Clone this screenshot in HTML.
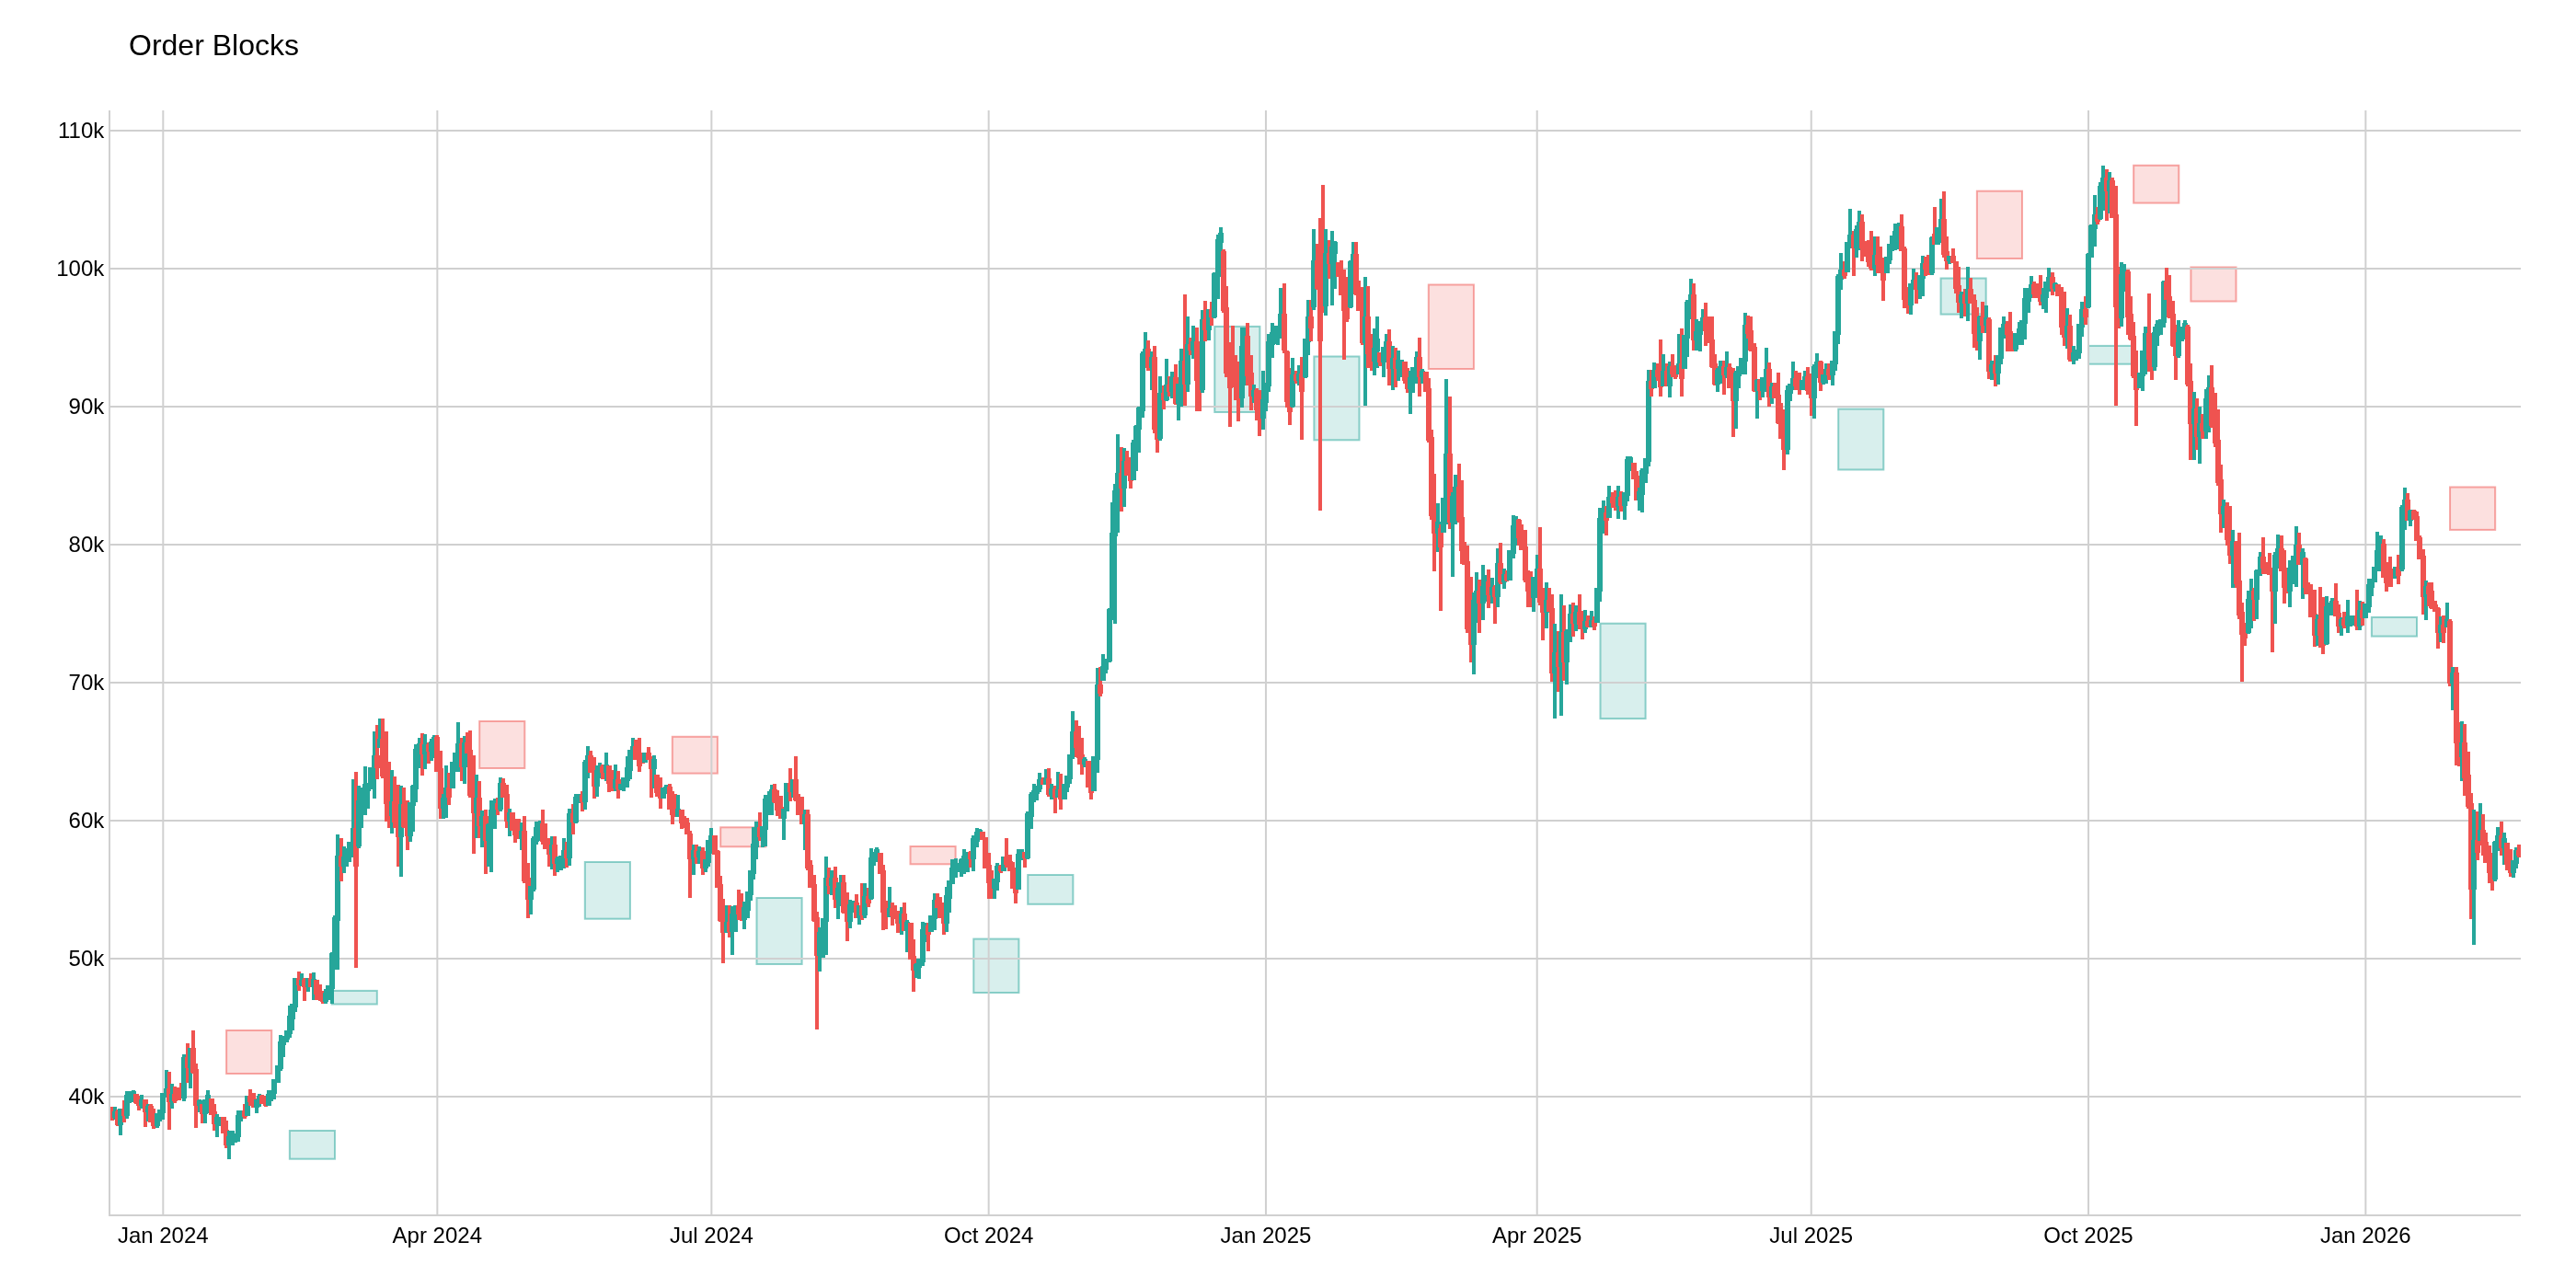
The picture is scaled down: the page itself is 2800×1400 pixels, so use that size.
<!DOCTYPE html>
<html><head><meta charset="utf-8"><title>Order Blocks</title>
<style>
html,body{margin:0;padding:0;background:#fff;}
body{position:relative;width:2800px;height:1400px;overflow:hidden;font-family:"Liberation Sans",sans-serif;}
svg{display:block;}
text{font-family:"Liberation Sans",sans-serif;font-size:24px;fill:#000;}
.title{font-size:32px;}
</style></head><body>
<svg width="2800" height="1400" viewBox="0 0 2800 1400">
<rect width="2800" height="1400" fill="#fff"/>
<g>
<rect x="246.09" y="1120.0" width="49.12" height="47.0" fill="rgba(239,83,80,0.18)" stroke="rgba(239,83,80,0.5)" stroke-width="2"/>
<rect x="314.86" y="1229.0" width="49.12" height="30.7" fill="rgba(38,166,154,0.18)" stroke="rgba(38,166,154,0.5)" stroke-width="2"/>
<rect x="360.71" y="1076.9" width="49.12" height="14.6" fill="rgba(38,166,154,0.18)" stroke="rgba(38,166,154,0.5)" stroke-width="2"/>
<rect x="521.19" y="784.0" width="49.12" height="51.0" fill="rgba(239,83,80,0.18)" stroke="rgba(239,83,80,0.5)" stroke-width="2"/>
<rect x="635.81" y="937.0" width="49.12" height="61.7" fill="rgba(38,166,154,0.18)" stroke="rgba(38,166,154,0.5)" stroke-width="2"/>
<rect x="730.79" y="800.8" width="49.12" height="39.8" fill="rgba(239,83,80,0.18)" stroke="rgba(239,83,80,0.5)" stroke-width="2"/>
<rect x="783.19" y="899.3" width="49.12" height="21.0" fill="rgba(239,83,80,0.18)" stroke="rgba(239,83,80,0.5)" stroke-width="2"/>
<rect x="822.49" y="976.0" width="49.12" height="72.0" fill="rgba(38,166,154,0.18)" stroke="rgba(38,166,154,0.5)" stroke-width="2"/>
<rect x="989.51" y="920.0" width="49.12" height="19.3" fill="rgba(239,83,80,0.18)" stroke="rgba(239,83,80,0.5)" stroke-width="2"/>
<rect x="1058.29" y="1020.6" width="49.12" height="58.4" fill="rgba(38,166,154,0.18)" stroke="rgba(38,166,154,0.5)" stroke-width="2"/>
<rect x="1117.24" y="951.0" width="49.12" height="31.8" fill="rgba(38,166,154,0.18)" stroke="rgba(38,166,154,0.5)" stroke-width="2"/>
<rect x="1320.29" y="354.9" width="49.12" height="93.1" fill="rgba(38,166,154,0.18)" stroke="rgba(38,166,154,0.5)" stroke-width="2"/>
<rect x="1428.36" y="387.5" width="49.12" height="90.8" fill="rgba(38,166,154,0.18)" stroke="rgba(38,166,154,0.5)" stroke-width="2"/>
<rect x="1552.81" y="309.5" width="49.12" height="91.5" fill="rgba(239,83,80,0.18)" stroke="rgba(239,83,80,0.5)" stroke-width="2"/>
<rect x="1739.49" y="677.7" width="49.12" height="103.4" fill="rgba(38,166,154,0.18)" stroke="rgba(38,166,154,0.5)" stroke-width="2"/>
<rect x="1998.21" y="444.6" width="49.12" height="65.9" fill="rgba(38,166,154,0.18)" stroke="rgba(38,166,154,0.5)" stroke-width="2"/>
<rect x="2109.56" y="302.5" width="49.12" height="39.1" fill="rgba(38,166,154,0.18)" stroke="rgba(38,166,154,0.5)" stroke-width="2"/>
<rect x="2148.86" y="207.7" width="49.12" height="73.3" fill="rgba(239,83,80,0.18)" stroke="rgba(239,83,80,0.5)" stroke-width="2"/>
<rect x="2270.04" y="375.9" width="49.12" height="19.8" fill="rgba(38,166,154,0.18)" stroke="rgba(38,166,154,0.5)" stroke-width="2"/>
<rect x="2319.16" y="179.8" width="49.12" height="40.8" fill="rgba(239,83,80,0.18)" stroke="rgba(239,83,80,0.5)" stroke-width="2"/>
<rect x="2381.39" y="290.5" width="49.12" height="37.0" fill="rgba(239,83,80,0.18)" stroke="rgba(239,83,80,0.5)" stroke-width="2"/>
<rect x="2577.89" y="670.9" width="49.12" height="20.7" fill="rgba(38,166,154,0.18)" stroke="rgba(38,166,154,0.5)" stroke-width="2"/>
<rect x="2663.04" y="529.5" width="49.12" height="46.4" fill="rgba(239,83,80,0.18)" stroke="rgba(239,83,80,0.5)" stroke-width="2"/>
</g>
<g>
<rect x="176.31" y="120" width="2" height="1200" fill="#d0d0d0"/>
<rect x="474.34" y="120" width="2" height="1200" fill="#d0d0d0"/>
<rect x="772.36" y="120" width="2" height="1200" fill="#d0d0d0"/>
<rect x="1073.66" y="120" width="2" height="1200" fill="#d0d0d0"/>
<rect x="1374.96" y="120" width="2" height="1200" fill="#d0d0d0"/>
<rect x="1669.71" y="120" width="2" height="1200" fill="#d0d0d0"/>
<rect x="1967.74" y="120" width="2" height="1200" fill="#d0d0d0"/>
<rect x="2269.04" y="120" width="2" height="1200" fill="#d0d0d0"/>
<rect x="2570.34" y="120" width="2" height="1200" fill="#d0d0d0"/>
</g>
<g shape-rendering="crispEdges">
<rect x="120" y="141" width="2620" height="2" fill="#d0d0d0"/>
<rect x="120" y="291" width="2620" height="2" fill="#d0d0d0"/>
<rect x="120" y="441" width="2620" height="2" fill="#d0d0d0"/>
<rect x="120" y="591" width="2620" height="2" fill="#d0d0d0"/>
<rect x="120" y="741" width="2620" height="2" fill="#d0d0d0"/>
<rect x="120" y="891" width="2620" height="2" fill="#d0d0d0"/>
<rect x="120" y="1041" width="2620" height="2" fill="#d0d0d0"/>
<rect x="120" y="1191" width="2620" height="2" fill="#d0d0d0"/>
<rect x="118" y="120" width="2" height="1202" fill="#d0d0d0"/><rect x="118" y="1320" width="2622" height="2" fill="#d0d0d0"/>
</g>
<clipPath id="cp"><rect x="120" y="120" width="2620" height="1200"/></clipPath>
<g clip-path="url(#cp)" stroke-width="4" stroke-linejoin="miter" shape-rendering="crispEdges">
<path d="M121.64,1202.6V1217.8M120.64,1210.2H122.64V1212.9H120.64Z" stroke="#ef5350" fill="#ef5350"/>
<path d="M124.91,1202.6V1216.6M123.91,1210.4H125.91V1212.9H123.91Z" stroke="#26a69a" fill="#26a69a"/>
<path d="M128.19,1206.1V1223.6M127.19,1210.4H129.19V1220.8H127.19Z" stroke="#ef5350" fill="#ef5350"/>
<path d="M131.46,1205.0V1234.1M130.46,1206.7H132.46V1220.8H130.46Z" stroke="#26a69a" fill="#26a69a"/>
<path d="M134.74,1195.7V1220.1M133.74,1206.7H135.74V1211.1H133.74Z" stroke="#ef5350" fill="#ef5350"/>
<path d="M138.01,1186.3V1215.5M137.01,1192.2H139.01V1211.1H137.01Z" stroke="#26a69a" fill="#26a69a"/>
<path d="M141.29,1186.3V1199.1M140.29,1189.9H142.29V1192.2H140.29Z" stroke="#26a69a" fill="#26a69a"/>
<path d="M144.56,1185.2V1198.0M143.56,1187.6H145.56V1189.9H143.56Z" stroke="#26a69a" fill="#26a69a"/>
<path d="M147.84,1189.8V1200.3M146.84,1190.5H148.84V1196.9H146.84Z" stroke="#ef5350" fill="#ef5350"/>
<path d="M151.11,1191.0V1207.3M150.11,1196.9H152.11V1199.8H150.11Z" stroke="#ef5350" fill="#ef5350"/>
<path d="M154.39,1189.8V1205.0M153.39,1197.1H155.39V1199.8H153.39Z" stroke="#26a69a" fill="#26a69a"/>
<path d="M157.66,1195.7V1224.8M156.66,1197.4H158.66V1207.3H156.66Z" stroke="#ef5350" fill="#ef5350"/>
<path d="M160.94,1200.3V1218.9M159.94,1204.0H161.94V1207.3H159.94Z" stroke="#26a69a" fill="#26a69a"/>
<path d="M164.21,1200.3V1218.9M163.21,1204.0H165.21V1217.8H163.21Z" stroke="#ef5350" fill="#ef5350"/>
<path d="M167.49,1205.0V1227.1M166.49,1217.8H168.49V1221.8H166.49Z" stroke="#ef5350" fill="#ef5350"/>
<path d="M170.76,1209.6V1225.9M169.76,1212.2H171.76V1221.8H169.76Z" stroke="#26a69a" fill="#26a69a"/>
<path d="M174.04,1207.3V1218.9M173.04,1208.0H175.04V1212.2H173.04Z" stroke="#26a69a" fill="#26a69a"/>
<path d="M177.31,1188.7V1216.6M176.31,1190.3H178.31V1208.0H176.31Z" stroke="#26a69a" fill="#26a69a"/>
<path d="M180.59,1163.0V1193.3M179.59,1184.9H181.59V1190.3H179.59Z" stroke="#26a69a" fill="#26a69a"/>
<path d="M183.86,1165.4V1228.3M182.86,1184.9H184.86V1196.2H182.86Z" stroke="#ef5350" fill="#ef5350"/>
<path d="M187.14,1178.2V1205.0M186.14,1191.4H188.14V1196.2H186.14Z" stroke="#26a69a" fill="#26a69a"/>
<path d="M190.41,1180.5V1199.1M189.41,1191.4H191.41V1194.7H189.41Z" stroke="#ef5350" fill="#ef5350"/>
<path d="M193.69,1181.7V1194.5M192.69,1191.4H194.69V1193.7H192.69Z" stroke="#ef5350" fill="#ef5350"/>
<path d="M196.96,1177.0V1193.3M195.96,1189.4H197.96V1192.3H195.96Z" stroke="#ef5350" fill="#ef5350"/>
<path d="M200.24,1145.6V1196.8M199.24,1150.9H201.24V1192.3H199.24Z" stroke="#26a69a" fill="#26a69a"/>
<path d="M203.51,1133.9V1177.0M202.51,1150.9H204.51V1158.6H202.51Z" stroke="#ef5350" fill="#ef5350"/>
<path d="M206.79,1138.6V1182.8M205.79,1141.2H207.79V1158.6H205.79Z" stroke="#26a69a" fill="#26a69a"/>
<path d="M210.06,1120.0V1166.5M209.06,1141.2H211.06V1163.7H209.06Z" stroke="#ef5350" fill="#ef5350"/>
<path d="M213.34,1156.1V1225.9M212.34,1163.7H214.34V1200.1H212.34Z" stroke="#ef5350" fill="#ef5350"/>
<path d="M216.61,1194.5V1208.5M215.61,1197.6H217.61V1200.1H215.61Z" stroke="#26a69a" fill="#26a69a"/>
<path d="M219.89,1200.3V1221.3M218.89,1201.6H220.89V1209.0H218.89Z" stroke="#ef5350" fill="#ef5350"/>
<path d="M223.16,1194.5V1221.3M222.16,1196.5H224.16V1209.0H222.16Z" stroke="#26a69a" fill="#26a69a"/>
<path d="M226.44,1185.2V1209.6M225.44,1192.1H227.44V1196.5H225.44Z" stroke="#26a69a" fill="#26a69a"/>
<path d="M229.71,1194.5V1210.8M228.71,1195.5H230.71V1209.8H228.71Z" stroke="#ef5350" fill="#ef5350"/>
<path d="M232.99,1200.3V1229.4M231.99,1209.8H233.99V1220.2H231.99Z" stroke="#ef5350" fill="#ef5350"/>
<path d="M236.26,1210.8V1236.4M235.26,1215.6H237.26V1220.2H235.26Z" stroke="#26a69a" fill="#26a69a"/>
<path d="M239.54,1215.5V1223.6M238.54,1215.9H240.54V1217.4H238.54Z" stroke="#26a69a" fill="#26a69a"/>
<path d="M242.81,1215.5V1230.6M241.81,1216.4H243.81V1229.7H241.81Z" stroke="#ef5350" fill="#ef5350"/>
<path d="M246.09,1217.8V1248.1M245.09,1229.7H247.09V1242.9H245.09Z" stroke="#ef5350" fill="#ef5350"/>
<path d="M249.36,1229.4V1259.7M248.36,1237.4H250.36V1242.9H248.36Z" stroke="#26a69a" fill="#26a69a"/>
<path d="M252.64,1229.4V1244.6M251.64,1234.7H253.64V1237.4H251.64Z" stroke="#26a69a" fill="#26a69a"/>
<path d="M255.91,1232.9V1242.2M254.91,1233.5H256.91V1235.2H254.91Z" stroke="#26a69a" fill="#26a69a"/>
<path d="M259.19,1206.8V1241.1M258.19,1214.0H260.19V1233.5H258.19Z" stroke="#26a69a" fill="#26a69a"/>
<path d="M262.46,1206.8V1218.9M261.46,1208.8H263.46V1214.0H261.46Z" stroke="#26a69a" fill="#26a69a"/>
<path d="M265.74,1200.3V1215.5M264.74,1208.8H266.74V1211.5H264.74Z" stroke="#ef5350" fill="#ef5350"/>
<path d="M269.01,1190.5V1212.0M268.01,1193.1H270.01V1210.7H268.01Z" stroke="#26a69a" fill="#26a69a"/>
<path d="M272.29,1184.0V1201.5M271.29,1193.1H273.29V1196.3H271.29Z" stroke="#ef5350" fill="#ef5350"/>
<path d="M275.56,1187.5V1202.6M274.56,1196.3H276.56V1201.7H274.56Z" stroke="#ef5350" fill="#ef5350"/>
<path d="M278.84,1194.5V1209.6M277.84,1196.6H279.84V1201.7H277.84Z" stroke="#26a69a" fill="#26a69a"/>
<path d="M282.11,1188.7V1202.6M281.11,1193.4H283.11V1196.6H281.11Z" stroke="#26a69a" fill="#26a69a"/>
<path d="M285.39,1189.8V1198.0M284.39,1193.4H286.39V1197.5H284.39Z" stroke="#ef5350" fill="#ef5350"/>
<path d="M288.66,1191.0V1202.6M287.66,1197.5H289.66V1199.6H287.66Z" stroke="#ef5350" fill="#ef5350"/>
<path d="M291.94,1184.7V1202.2M290.94,1191.3H292.94V1199.6H290.94Z" stroke="#26a69a" fill="#26a69a"/>
<path d="M295.21,1186.3V1196.8M294.21,1187.0H296.21V1191.3H294.21Z" stroke="#26a69a" fill="#26a69a"/>
<path d="M298.49,1173.5V1194.5M297.49,1174.8H299.49V1187.0H297.49Z" stroke="#26a69a" fill="#26a69a"/>
<path d="M301.76,1158.4V1177.0M300.76,1159.5H302.76V1174.8H300.76Z" stroke="#26a69a" fill="#26a69a"/>
<path d="M305.04,1124.6V1164.2M304.04,1134.2H306.04V1159.5H304.04Z" stroke="#26a69a" fill="#26a69a"/>
<path d="M308.31,1125.8V1149.1M307.31,1127.5H309.31V1134.2H307.31Z" stroke="#26a69a" fill="#26a69a"/>
<path d="M311.59,1121.1V1132.8M310.59,1121.8H312.59V1127.5H310.59Z" stroke="#26a69a" fill="#26a69a"/>
<path d="M314.86,1093.2V1128.1M313.86,1106.0H315.86V1121.8H313.86Z" stroke="#26a69a" fill="#26a69a"/>
<path d="M318.14,1090.8V1120.0M317.14,1092.6H319.14V1106.0H317.14Z" stroke="#26a69a" fill="#26a69a"/>
<path d="M321.41,1062.9V1100.2M320.41,1065.2H322.41V1092.6H320.41Z" stroke="#26a69a" fill="#26a69a"/>
<path d="M324.69,1055.9V1076.9M323.69,1065.2H325.69V1069.0H323.69Z" stroke="#ef5350" fill="#ef5350"/>
<path d="M327.96,1058.2V1072.2M326.96,1066.5H328.96V1069.0H326.96Z" stroke="#26a69a" fill="#26a69a"/>
<path d="M331.24,1062.9V1088.0M330.24,1066.5H332.24V1071.0H330.24Z" stroke="#ef5350" fill="#ef5350"/>
<path d="M334.51,1062.9V1078.0M333.51,1065.0H335.51V1071.0H333.51Z" stroke="#26a69a" fill="#26a69a"/>
<path d="M337.79,1058.2V1072.2M336.79,1065.0H338.79V1071.4H336.79Z" stroke="#ef5350" fill="#ef5350"/>
<path d="M341.06,1057.1V1086.6M340.06,1066.0H342.06V1071.4H340.06Z" stroke="#26a69a" fill="#26a69a"/>
<path d="M344.34,1065.2V1087.3M343.34,1066.5H345.34V1078.8H343.34Z" stroke="#ef5350" fill="#ef5350"/>
<path d="M347.61,1069.9V1088.0M346.61,1078.8H348.61V1084.8H346.61Z" stroke="#ef5350" fill="#ef5350"/>
<path d="M350.89,1076.9V1091.3M349.89,1084.8H351.89V1087.4H349.89Z" stroke="#ef5350" fill="#ef5350"/>
<path d="M354.16,1074.5V1090.8M353.16,1080.7H355.16V1087.4H353.16Z" stroke="#26a69a" fill="#26a69a"/>
<path d="M357.44,1072.2V1087.3M356.44,1073.1H358.44V1080.7H356.44Z" stroke="#26a69a" fill="#26a69a"/>
<path d="M360.71,1034.9V1090.8M359.71,1038.3H361.71V1073.1H359.71Z" stroke="#26a69a" fill="#26a69a"/>
<path d="M363.99,995.3V1053.5M362.99,998.7H364.99V1038.3H362.99Z" stroke="#26a69a" fill="#26a69a"/>
<path d="M367.26,906.7V1053.5M366.26,931.7H368.26V998.7H366.26Z" stroke="#26a69a" fill="#26a69a"/>
<path d="M370.54,911.4V958.0M369.54,931.7H371.54V940.1H369.54Z" stroke="#ef5350" fill="#ef5350"/>
<path d="M373.81,919.6V948.7M372.81,933.3H374.81V940.1H372.81Z" stroke="#26a69a" fill="#26a69a"/>
<path d="M377.09,923.0V941.7M376.09,924.2H378.09V933.3H376.09Z" stroke="#26a69a" fill="#26a69a"/>
<path d="M380.36,916.1V937.0M379.36,917.3H381.36V924.2H379.36Z" stroke="#26a69a" fill="#26a69a"/>
<path d="M383.64,847.3V932.4M382.64,902.0H384.64V917.3H382.64Z" stroke="#26a69a" fill="#26a69a"/>
<path d="M386.91,839.2V1052.3M385.91,902.0H387.91V940.4H385.91Z" stroke="#ef5350" fill="#ef5350"/>
<path d="M390.19,854.3V921.9M389.19,871.8H391.19V917.8H389.19Z" stroke="#26a69a" fill="#26a69a"/>
<path d="M393.46,855.5V899.8M392.46,863.8H394.46V871.8H392.46Z" stroke="#26a69a" fill="#26a69a"/>
<path d="M396.74,833.4V885.8M395.74,854.4H397.74V863.8H395.74Z" stroke="#26a69a" fill="#26a69a"/>
<path d="M400.01,850.8V878.8M399.01,852.5H401.01V857.5H399.01Z" stroke="#26a69a" fill="#26a69a"/>
<path d="M403.29,834.5V857.8M402.29,835.9H404.29V852.5H402.29Z" stroke="#26a69a" fill="#26a69a"/>
<path d="M406.56,794.9V868.3M405.56,822.7H407.56V835.9H405.56Z" stroke="#26a69a" fill="#26a69a"/>
<path d="M409.84,788.0V847.3M408.84,822.7H410.84V833.4H408.84Z" stroke="#ef5350" fill="#ef5350"/>
<path d="M413.11,780.5V812.4M412.11,804.7H414.11V810.5H412.11Z" stroke="#26a69a" fill="#26a69a"/>
<path d="M416.39,780.5V846.2M415.39,804.7H417.39V842.2H415.39Z" stroke="#ef5350" fill="#ef5350"/>
<path d="M419.66,794.9V892.8M418.66,842.2H420.66V872.0H418.66Z" stroke="#ef5350" fill="#ef5350"/>
<path d="M422.94,827.5V899.8M421.94,872.0H423.94V885.0H421.94Z" stroke="#ef5350" fill="#ef5350"/>
<path d="M426.21,836.9V905.6M425.21,872.6H427.21V885.0H425.21Z" stroke="#26a69a" fill="#26a69a"/>
<path d="M429.49,843.9V899.8M428.49,872.6H430.49V891.5H428.49Z" stroke="#ef5350" fill="#ef5350"/>
<path d="M432.76,853.2V941.7M431.76,891.5H433.76V907.5H431.76Z" stroke="#ef5350" fill="#ef5350"/>
<path d="M436.04,854.3V953.3M435.04,875.8H437.04V907.5H435.04Z" stroke="#26a69a" fill="#26a69a"/>
<path d="M439.31,855.5V899.8M438.31,875.8H440.31V897.1H438.31Z" stroke="#ef5350" fill="#ef5350"/>
<path d="M442.59,869.5V924.2M441.59,897.1H443.59V906.9H441.59Z" stroke="#ef5350" fill="#ef5350"/>
<path d="M445.86,871.8V914.9M444.86,874.4H446.86V906.9H444.86Z" stroke="#26a69a" fill="#26a69a"/>
<path d="M449.14,853.2V904.4M448.14,856.2H450.14V874.4H448.14Z" stroke="#26a69a" fill="#26a69a"/>
<path d="M452.41,808.9V871.8M451.41,815.6H453.41V856.2H451.41Z" stroke="#26a69a" fill="#26a69a"/>
<path d="M455.69,801.9V834.5M454.69,809.7H456.69V815.6H454.69Z" stroke="#26a69a" fill="#26a69a"/>
<path d="M458.96,797.3V842.7M457.96,809.7H459.96V817.9H457.96Z" stroke="#ef5350" fill="#ef5350"/>
<path d="M462.24,798.4V835.7M461.24,811.2H463.24V817.9H461.24Z" stroke="#26a69a" fill="#26a69a"/>
<path d="M465.51,806.6V829.9M464.51,811.2H466.51V815.4H464.51Z" stroke="#ef5350" fill="#ef5350"/>
<path d="M468.79,802.9V827.0M467.79,807.9H469.79V815.4H467.79Z" stroke="#26a69a" fill="#26a69a"/>
<path d="M472.06,799.1V824.1M471.06,803.4H473.06V807.9H471.06Z" stroke="#26a69a" fill="#26a69a"/>
<path d="M475.34,799.1V839.2M474.34,803.4H476.34V836.8H474.34Z" stroke="#ef5350" fill="#ef5350"/>
<path d="M478.61,815.9V890.4M477.61,836.8H479.61V877.0H477.61Z" stroke="#ef5350" fill="#ef5350"/>
<path d="M481.89,862.5V890.4M480.89,868.5H482.89V877.0H480.89Z" stroke="#26a69a" fill="#26a69a"/>
<path d="M485.16,832.2V889.3M484.16,858.2H486.16V868.5H484.16Z" stroke="#26a69a" fill="#26a69a"/>
<path d="M488.44,840.4V875.3M487.44,858.2H489.44V864.5H487.44Z" stroke="#ef5350" fill="#ef5350"/>
<path d="M491.71,827.5V856.7M490.71,829.5H492.71V854.9H490.71Z" stroke="#26a69a" fill="#26a69a"/>
<path d="M494.99,818.2V839.2M493.99,819.5H495.99V829.5H493.99Z" stroke="#26a69a" fill="#26a69a"/>
<path d="M498.26,784.5V839.2M497.26,809.6H499.26V819.5H497.26Z" stroke="#26a69a" fill="#26a69a"/>
<path d="M501.54,801.9V848.5M500.54,809.6H502.54V832.1H500.54Z" stroke="#ef5350" fill="#ef5350"/>
<path d="M504.81,799.6V852.0M503.81,809.0H505.81V832.1H503.81Z" stroke="#26a69a" fill="#26a69a"/>
<path d="M508.09,796.1V818.2M507.09,809.0H509.09V816.9H507.09Z" stroke="#ef5350" fill="#ef5350"/>
<path d="M511.36,793.8V867.1M510.36,816.9H512.36V862.7H510.36Z" stroke="#ef5350" fill="#ef5350"/>
<path d="M514.64,820.6V927.7M513.64,862.7H515.64V882.0H513.64Z" stroke="#ef5350" fill="#ef5350"/>
<path d="M517.91,841.5V911.4M516.91,869.4H518.91V882.0H516.91Z" stroke="#26a69a" fill="#26a69a"/>
<path d="M521.19,848.5V911.4M520.19,869.4H522.19V896.2H520.19Z" stroke="#ef5350" fill="#ef5350"/>
<path d="M524.46,881.1V920.7M523.46,889.1H525.46V896.2H523.46Z" stroke="#26a69a" fill="#26a69a"/>
<path d="M527.74,880.0V949.8M526.74,889.1H528.74V912.3H526.74Z" stroke="#ef5350" fill="#ef5350"/>
<path d="M531.01,895.1V941.7M530.01,898.4H532.01V912.3H530.01Z" stroke="#26a69a" fill="#26a69a"/>
<path d="M534.29,869.5V947.5M533.29,881.8H535.29V898.4H533.29Z" stroke="#26a69a" fill="#26a69a"/>
<path d="M537.56,868.3V900.9M536.56,874.6H538.56V881.8H536.56Z" stroke="#26a69a" fill="#26a69a"/>
<path d="M540.84,867.1V885.8M539.84,874.6H541.84V877.9H539.84Z" stroke="#ef5350" fill="#ef5350"/>
<path d="M544.11,845.0V882.3M543.11,853.4H545.11V877.9H543.11Z" stroke="#26a69a" fill="#26a69a"/>
<path d="M547.39,846.2V866.0M546.39,853.4H548.39V864.8H546.39Z" stroke="#ef5350" fill="#ef5350"/>
<path d="M550.66,853.2V899.8M549.66,864.8H551.66V890.8H549.66Z" stroke="#ef5350" fill="#ef5350"/>
<path d="M553.94,878.8V909.1M552.94,885.3H554.94V890.8H552.94Z" stroke="#26a69a" fill="#26a69a"/>
<path d="M557.21,883.4V902.1M556.21,885.3H558.21V901.0H556.21Z" stroke="#ef5350" fill="#ef5350"/>
<path d="M560.49,890.4V916.1M559.49,901.0H561.49V905.6H559.49Z" stroke="#ef5350" fill="#ef5350"/>
<path d="M563.76,890.4V911.4M562.76,905.6H564.76V910.1H562.76Z" stroke="#ef5350" fill="#ef5350"/>
<path d="M567.04,893.9V924.2M566.04,904.7H568.04V910.1H566.04Z" stroke="#26a69a" fill="#26a69a"/>
<path d="M570.31,886.9V960.3M569.31,904.7H571.31V955.9H569.31Z" stroke="#ef5350" fill="#ef5350"/>
<path d="M573.59,938.2V997.6M572.59,955.9H574.59V976.0H572.59Z" stroke="#ef5350" fill="#ef5350"/>
<path d="M576.86,962.6V994.1M575.86,964.5H577.86V976.0H575.86Z" stroke="#26a69a" fill="#26a69a"/>
<path d="M580.14,909.1V968.5M579.14,912.6H581.14V964.5H579.14Z" stroke="#26a69a" fill="#26a69a"/>
<path d="M583.41,892.8V918.4M582.41,900.6H584.41V912.6H582.41Z" stroke="#26a69a" fill="#26a69a"/>
<path d="M586.69,892.3V913.7M585.69,896.7H587.69V900.6H585.69Z" stroke="#26a69a" fill="#26a69a"/>
<path d="M589.96,880.0V918.4M588.96,896.7H590.96V913.2H588.96Z" stroke="#ef5350" fill="#ef5350"/>
<path d="M593.24,895.1V923.0M592.24,913.2H594.24V921.4H592.24Z" stroke="#ef5350" fill="#ef5350"/>
<path d="M596.51,911.4V941.7M595.51,921.4H597.51V926.9H595.51Z" stroke="#ef5350" fill="#ef5350"/>
<path d="M599.79,909.1V945.2M598.79,920.4H600.79V926.9H598.79Z" stroke="#26a69a" fill="#26a69a"/>
<path d="M603.06,909.1V952.2M602.06,920.4H604.06V937.4H602.06Z" stroke="#ef5350" fill="#ef5350"/>
<path d="M606.34,931.2V947.5M605.34,934.5H607.34V937.4H605.34Z" stroke="#26a69a" fill="#26a69a"/>
<path d="M609.61,931.2V946.3M608.61,932.1H610.61V934.8H608.61Z" stroke="#26a69a" fill="#26a69a"/>
<path d="M612.89,911.4V944.0M611.89,926.2H613.89V932.1H611.89Z" stroke="#26a69a" fill="#26a69a"/>
<path d="M616.16,914.9V942.8M615.16,926.2H617.16V931.3H615.16Z" stroke="#ef5350" fill="#ef5350"/>
<path d="M619.44,878.8V940.5M618.44,885.8H620.44V931.3H618.44Z" stroke="#26a69a" fill="#26a69a"/>
<path d="M622.71,874.1V906.7M621.71,885.8H623.71V891.6H621.71Z" stroke="#ef5350" fill="#ef5350"/>
<path d="M625.99,862.5V895.1M624.99,867.8H626.99V891.6H624.99Z" stroke="#26a69a" fill="#26a69a"/>
<path d="M629.26,862.5V873.0M628.26,865.9H630.26V867.8H628.26Z" stroke="#26a69a" fill="#26a69a"/>
<path d="M632.54,860.2V882.3M631.54,865.9H633.54V869.9H631.54Z" stroke="#ef5350" fill="#ef5350"/>
<path d="M635.81,826.4V880.0M634.81,829.6H636.81V869.9H634.81Z" stroke="#26a69a" fill="#26a69a"/>
<path d="M639.09,810.8V846.2M638.09,823.2H640.09V829.6H638.09Z" stroke="#26a69a" fill="#26a69a"/>
<path d="M642.36,815.9V839.2M641.36,823.2H643.36V837.8H641.36Z" stroke="#ef5350" fill="#ef5350"/>
<path d="M645.64,822.9V868.3M644.64,837.8H646.64V852.8H644.64Z" stroke="#ef5350" fill="#ef5350"/>
<path d="M648.91,832.2V866.0M647.91,838.5H649.91V852.8H647.91Z" stroke="#26a69a" fill="#26a69a"/>
<path d="M652.19,828.7V846.2M651.19,835.3H653.19V838.5H651.19Z" stroke="#26a69a" fill="#26a69a"/>
<path d="M655.46,831.0V847.3M654.46,835.3H656.46V838.3H654.46Z" stroke="#ef5350" fill="#ef5350"/>
<path d="M658.74,817.8V848.5M657.74,832.7H659.74V838.3H657.74Z" stroke="#26a69a" fill="#26a69a"/>
<path d="M662.01,832.2V861.3M661.01,834.0H663.01V850.4H661.01Z" stroke="#ef5350" fill="#ef5350"/>
<path d="M665.29,836.9V860.2M664.29,850.4H666.29V854.6H664.29Z" stroke="#ef5350" fill="#ef5350"/>
<path d="M668.56,831.0V860.2M667.56,849.4H669.56V854.6H667.56Z" stroke="#26a69a" fill="#26a69a"/>
<path d="M671.84,838.0V868.3M670.84,849.4H672.84V855.8H670.84Z" stroke="#ef5350" fill="#ef5350"/>
<path d="M675.11,853.2V859.0M674.11,853.5H676.11V855.8H674.11Z" stroke="#26a69a" fill="#26a69a"/>
<path d="M678.39,846.2V860.2M677.39,847.0H679.39V853.5H677.39Z" stroke="#26a69a" fill="#26a69a"/>
<path d="M681.66,821.7V855.5M680.66,835.8H682.66V847.0H680.66Z" stroke="#26a69a" fill="#26a69a"/>
<path d="M684.94,814.7V847.3M683.94,816.7H685.94V835.8H683.94Z" stroke="#26a69a" fill="#26a69a"/>
<path d="M688.21,801.9V822.9M687.21,812.9H689.21V816.7H687.21Z" stroke="#26a69a" fill="#26a69a"/>
<path d="M691.49,804.3V825.2M690.49,812.9H692.49V823.9H690.49Z" stroke="#ef5350" fill="#ef5350"/>
<path d="M694.76,801.5V839.2M693.76,823.9H695.76V830.7H693.76Z" stroke="#ef5350" fill="#ef5350"/>
<path d="M698.04,818.2V828.7M697.04,826.2H699.04V828.1H697.04Z" stroke="#ef5350" fill="#ef5350"/>
<path d="M701.31,819.4V827.5M700.31,819.9H702.31V827.1H700.31Z" stroke="#26a69a" fill="#26a69a"/>
<path d="M704.59,812.4V825.2M703.59,819.9H705.59V824.4H703.59Z" stroke="#ef5350" fill="#ef5350"/>
<path d="M707.86,821.7V866.7M706.86,824.4H708.86V833.5H706.86Z" stroke="#ef5350" fill="#ef5350"/>
<path d="M711.14,820.6V856.7M710.14,827.0H712.14V833.5H710.14Z" stroke="#26a69a" fill="#26a69a"/>
<path d="M714.41,842.7V866.0M713.41,844.1H715.41V859.7H713.41Z" stroke="#ef5350" fill="#ef5350"/>
<path d="M717.69,845.0V878.8M716.69,859.7H718.69V865.7H716.69Z" stroke="#ef5350" fill="#ef5350"/>
<path d="M720.96,855.5V868.3M719.96,858.4H721.96V865.7H719.96Z" stroke="#26a69a" fill="#26a69a"/>
<path d="M724.24,853.2V862.5M723.24,856.7H725.24V858.4H723.24Z" stroke="#26a69a" fill="#26a69a"/>
<path d="M727.51,852.0V880.0M726.51,856.7H728.51V877.6H726.51Z" stroke="#ef5350" fill="#ef5350"/>
<path d="M730.79,860.2V896.3M729.79,877.6H731.79V884.1H729.79Z" stroke="#ef5350" fill="#ef5350"/>
<path d="M734.06,862.5V886.9M733.06,881.1H735.06V885.5H733.06Z" stroke="#ef5350" fill="#ef5350"/>
<path d="M737.34,863.6V886.9M736.34,881.3H738.34V885.5H736.34Z" stroke="#26a69a" fill="#26a69a"/>
<path d="M740.61,881.1V900.9M739.61,882.3H741.61V892.8H739.61Z" stroke="#ef5350" fill="#ef5350"/>
<path d="M743.89,886.9V899.8M742.89,892.8H744.89V896.1H742.89Z" stroke="#ef5350" fill="#ef5350"/>
<path d="M747.16,889.3V905.6M746.16,896.1H748.16V904.6H746.16Z" stroke="#ef5350" fill="#ef5350"/>
<path d="M750.44,903.2V975.5M749.44,907.6H751.44V931.7H749.44Z" stroke="#ef5350" fill="#ef5350"/>
<path d="M753.71,918.4V951.0M752.71,925.9H754.71V931.7H752.71Z" stroke="#26a69a" fill="#26a69a"/>
<path d="M756.99,918.4V939.3M755.99,925.9H757.99V930.2H755.99Z" stroke="#ef5350" fill="#ef5350"/>
<path d="M760.26,919.6V939.3M759.26,926.6H761.26V930.2H759.26Z" stroke="#26a69a" fill="#26a69a"/>
<path d="M763.54,920.7V951.0M762.54,926.6H764.54V942.4H762.54Z" stroke="#ef5350" fill="#ef5350"/>
<path d="M766.81,934.7V947.5M765.81,935.5H767.81V942.4H765.81Z" stroke="#26a69a" fill="#26a69a"/>
<path d="M770.09,912.6V941.7M769.09,915.0H771.09V935.5H769.09Z" stroke="#26a69a" fill="#26a69a"/>
<path d="M773.36,899.8V927.7M772.36,910.0H774.36V915.0H772.36Z" stroke="#26a69a" fill="#26a69a"/>
<path d="M776.64,908.6V927.7M775.64,910.0H777.64V926.6H775.64Z" stroke="#ef5350" fill="#ef5350"/>
<path d="M779.91,924.2V965.0M778.91,926.7H780.91V962.5H778.91Z" stroke="#ef5350" fill="#ef5350"/>
<path d="M783.19,952.2V1002.2M782.19,962.5H784.19V999.2H782.19Z" stroke="#ef5350" fill="#ef5350"/>
<path d="M786.46,976.6V1046.5M785.46,999.2H787.46V1011.8H785.46Z" stroke="#ef5350" fill="#ef5350"/>
<path d="M789.74,983.6V1013.9M788.74,1003.7H790.74V1011.8H788.74Z" stroke="#26a69a" fill="#26a69a"/>
<path d="M793.01,983.6V1018.5M792.01,1003.7H794.01V1011.2H792.01Z" stroke="#ef5350" fill="#ef5350"/>
<path d="M796.29,984.8V1038.3M795.29,995.4H797.29V1011.2H795.29Z" stroke="#26a69a" fill="#26a69a"/>
<path d="M799.56,983.6V1012.7M798.56,986.4H800.56V995.4H798.56Z" stroke="#26a69a" fill="#26a69a"/>
<path d="M802.84,967.3V999.9M801.84,986.4H803.84V992.3H801.84Z" stroke="#ef5350" fill="#ef5350"/>
<path d="M806.11,970.8V1001.1M805.11,992.3H807.11V998.0H805.11Z" stroke="#ef5350" fill="#ef5350"/>
<path d="M809.39,980.1V1010.4M808.39,987.6H810.39V998.0H808.39Z" stroke="#26a69a" fill="#26a69a"/>
<path d="M812.66,969.6V997.6M811.66,971.3H813.66V987.6H811.66Z" stroke="#26a69a" fill="#26a69a"/>
<path d="M815.94,946.3V978.9M814.94,948.3H816.94V971.3H814.94Z" stroke="#26a69a" fill="#26a69a"/>
<path d="M819.21,898.6V955.7M818.21,918.6H820.21V948.3H818.21Z" stroke="#26a69a" fill="#26a69a"/>
<path d="M822.49,892.8V933.5M821.49,900.6H823.49V918.6H821.49Z" stroke="#26a69a" fill="#26a69a"/>
<path d="M825.76,883.4V913.7M824.76,900.6H826.76V907.5H824.76Z" stroke="#ef5350" fill="#ef5350"/>
<path d="M829.04,898.6V920.7M828.04,899.9H830.04V907.5H828.04Z" stroke="#26a69a" fill="#26a69a"/>
<path d="M832.31,863.6V919.6M831.31,870.3H833.31V899.9H831.31Z" stroke="#26a69a" fill="#26a69a"/>
<path d="M835.59,860.2V885.8M834.59,865.7H836.59V870.3H834.59Z" stroke="#26a69a" fill="#26a69a"/>
<path d="M838.86,853.2V885.8M837.86,859.8H839.86V865.7H837.86Z" stroke="#26a69a" fill="#26a69a"/>
<path d="M842.14,852.0V873.0M841.14,859.8H843.14V870.0H841.14Z" stroke="#ef5350" fill="#ef5350"/>
<path d="M845.41,859.0V886.9M844.41,870.0H846.41V879.4H844.41Z" stroke="#ef5350" fill="#ef5350"/>
<path d="M848.69,864.8V889.3M847.69,879.4H849.69V887.8H847.69Z" stroke="#ef5350" fill="#ef5350"/>
<path d="M851.96,878.8V912.6M850.96,880.8H852.96V887.8H850.96Z" stroke="#26a69a" fill="#26a69a"/>
<path d="M855.24,850.8V882.3M854.24,852.7H856.24V880.4H854.24Z" stroke="#26a69a" fill="#26a69a"/>
<path d="M858.51,834.5V870.6M857.51,852.7H859.51V859.2H857.51Z" stroke="#ef5350" fill="#ef5350"/>
<path d="M861.79,847.3V867.1M860.79,848.5H862.79V859.2H860.79Z" stroke="#26a69a" fill="#26a69a"/>
<path d="M865.06,822.4V870.6M864.06,848.5H866.06V867.7H864.06Z" stroke="#ef5350" fill="#ef5350"/>
<path d="M868.34,862.5V885.8M867.34,867.7H869.34V884.4H867.34Z" stroke="#ef5350" fill="#ef5350"/>
<path d="M871.61,866.0V896.3M870.61,884.4H872.61V894.4H870.61Z" stroke="#ef5350" fill="#ef5350"/>
<path d="M874.89,880.0V924.2M873.89,886.5H875.89V894.4H873.89Z" stroke="#26a69a" fill="#26a69a"/>
<path d="M878.16,880.0V946.3M877.16,886.5H879.16V942.4H877.16Z" stroke="#ef5350" fill="#ef5350"/>
<path d="M881.44,934.7V965.0M880.44,942.4H882.44V963.2H880.44Z" stroke="#ef5350" fill="#ef5350"/>
<path d="M884.71,951.0V1002.2M883.71,963.2H885.71V999.2H883.71Z" stroke="#ef5350" fill="#ef5350"/>
<path d="M887.99,990.6V1118.9M886.99,999.2H888.99V1036.6H886.99Z" stroke="#ef5350" fill="#ef5350"/>
<path d="M891.26,1008.1V1055.8M890.26,1015.4H892.26V1036.6H890.26Z" stroke="#26a69a" fill="#26a69a"/>
<path d="M894.54,997.6V1040.7M893.54,1000.2H895.54V1015.4H893.54Z" stroke="#26a69a" fill="#26a69a"/>
<path d="M897.81,931.2V1038.3M896.81,955.6H898.81V1000.2H896.81Z" stroke="#26a69a" fill="#26a69a"/>
<path d="M901.09,942.8V972.0M900.09,955.6H902.09V960.8H900.09Z" stroke="#ef5350" fill="#ef5350"/>
<path d="M904.36,946.3V973.1M903.36,956.0H905.36V960.8H903.36Z" stroke="#26a69a" fill="#26a69a"/>
<path d="M907.64,941.7V987.1M906.64,956.0H908.64V976.1H906.64Z" stroke="#ef5350" fill="#ef5350"/>
<path d="M910.91,959.1V998.7M909.91,967.1H911.91V976.1H909.91Z" stroke="#26a69a" fill="#26a69a"/>
<path d="M914.19,951.0V984.8M913.19,961.0H915.19V967.1H913.19Z" stroke="#26a69a" fill="#26a69a"/>
<path d="M917.46,951.0V992.9M916.46,961.0H918.46V990.4H916.46Z" stroke="#ef5350" fill="#ef5350"/>
<path d="M920.74,969.6V1023.2M919.74,990.4H921.74V1000.0H919.74Z" stroke="#ef5350" fill="#ef5350"/>
<path d="M924.01,977.8V1009.2M923.01,985.2H925.01V1000.0H923.01Z" stroke="#26a69a" fill="#26a69a"/>
<path d="M927.29,978.9V991.8M926.29,982.9H928.29V985.2H926.29Z" stroke="#26a69a" fill="#26a69a"/>
<path d="M930.56,972.0V998.0M929.56,982.9H931.56V996.4H929.56Z" stroke="#ef5350" fill="#ef5350"/>
<path d="M933.84,984.8V1005.0M932.84,986.0H934.84V996.4H932.84Z" stroke="#26a69a" fill="#26a69a"/>
<path d="M937.11,960.3V1000.3M936.11,986.0H938.11V993.2H936.11Z" stroke="#ef5350" fill="#ef5350"/>
<path d="M940.39,960.3V998.0M939.39,975.7H941.39V993.2H939.39Z" stroke="#26a69a" fill="#26a69a"/>
<path d="M943.66,965.0V986.3M942.66,975.7H944.66V979.5H942.66Z" stroke="#ef5350" fill="#ef5350"/>
<path d="M946.94,922.3V978.2M945.94,934.0H947.94V974.8H945.94Z" stroke="#26a69a" fill="#26a69a"/>
<path d="M950.21,926.9V940.9M949.21,927.8H951.21V934.0H949.21Z" stroke="#26a69a" fill="#26a69a"/>
<path d="M953.49,920.7V937.4M952.49,924.8H954.49V927.8H952.49Z" stroke="#26a69a" fill="#26a69a"/>
<path d="M956.76,928.1V949.1M955.76,929.4H957.76V947.8H955.76Z" stroke="#ef5350" fill="#ef5350"/>
<path d="M960.04,939.8V1010.8M959.04,947.8H961.04V990.0H959.04Z" stroke="#ef5350" fill="#ef5350"/>
<path d="M963.31,979.3V1009.6M962.31,990.0H964.31V995.4H962.31Z" stroke="#ef5350" fill="#ef5350"/>
<path d="M966.59,964.2V996.8M965.59,989.0H967.59V994.9H965.59Z" stroke="#26a69a" fill="#26a69a"/>
<path d="M969.86,980.5V1006.1M968.86,989.0H970.86V993.6H968.86Z" stroke="#ef5350" fill="#ef5350"/>
<path d="M973.14,984.0V998.0M972.14,993.6H974.14V997.1H972.14Z" stroke="#ef5350" fill="#ef5350"/>
<path d="M976.41,989.8V1014.3M975.41,997.1H977.41V1001.5H975.41Z" stroke="#ef5350" fill="#ef5350"/>
<path d="M979.69,986.3V1015.5M978.69,995.0H980.69V1001.5H978.69Z" stroke="#26a69a" fill="#26a69a"/>
<path d="M982.96,981.2V1012.0M981.96,995.0H983.96V1010.1H981.96Z" stroke="#ef5350" fill="#ef5350"/>
<path d="M986.24,1000.3V1035.3M985.24,1003.8H987.24V1010.1H985.24Z" stroke="#26a69a" fill="#26a69a"/>
<path d="M989.51,1002.6V1043.4M988.51,1005.1H990.51V1041.0H988.51Z" stroke="#ef5350" fill="#ef5350"/>
<path d="M992.79,1021.3V1078.3M991.79,1041.0H993.79V1053.1H991.79Z" stroke="#ef5350" fill="#ef5350"/>
<path d="M996.06,1046.9V1063.2M995.06,1050.2H997.06V1053.1H995.06Z" stroke="#26a69a" fill="#26a69a"/>
<path d="M999.34,1042.2V1064.4M998.34,1043.6H1000.34V1050.2H998.34Z" stroke="#26a69a" fill="#26a69a"/>
<path d="M1002.61,1001.5V1050.4M1001.61,1011.7H1003.61V1043.6H1001.61Z" stroke="#26a69a" fill="#26a69a"/>
<path d="M1005.89,1002.6V1023.6M1004.89,1007.9H1006.89V1011.7H1004.89Z" stroke="#26a69a" fill="#26a69a"/>
<path d="M1009.16,1002.6V1033.6M1008.16,1007.9H1010.16V1013.5H1008.16Z" stroke="#ef5350" fill="#ef5350"/>
<path d="M1012.44,995.7V1012.0M1011.44,996.6H1013.44V1011.0H1011.44Z" stroke="#26a69a" fill="#26a69a"/>
<path d="M1015.71,970.5V1010.8M1014.71,979.7H1016.71V996.6H1014.71Z" stroke="#26a69a" fill="#26a69a"/>
<path d="M1018.99,970.5V986.3M1017.99,979.7H1019.99V985.4H1017.99Z" stroke="#ef5350" fill="#ef5350"/>
<path d="M1022.26,974.7V996.8M1021.26,985.4H1023.26V995.5H1021.26Z" stroke="#ef5350" fill="#ef5350"/>
<path d="M1025.54,980.5V1016.2M1024.54,995.5H1026.54V1001.9H1024.54Z" stroke="#ef5350" fill="#ef5350"/>
<path d="M1028.81,964.2V1013.1M1027.81,974.7H1029.81V1001.9H1027.81Z" stroke="#26a69a" fill="#26a69a"/>
<path d="M1032.09,957.2V992.2M1031.09,959.3H1033.09V974.7H1031.09Z" stroke="#26a69a" fill="#26a69a"/>
<path d="M1035.36,933.9V960.7M1034.36,944.5H1036.36V959.1H1034.36Z" stroke="#26a69a" fill="#26a69a"/>
<path d="M1038.64,932.8V953.7M1037.64,940.7H1039.64V944.5H1037.64Z" stroke="#26a69a" fill="#26a69a"/>
<path d="M1041.91,939.8V947.9M1040.91,940.2H1042.91V941.7H1040.91Z" stroke="#26a69a" fill="#26a69a"/>
<path d="M1045.19,932.8V952.6M1044.19,936.4H1046.19V940.2H1044.19Z" stroke="#26a69a" fill="#26a69a"/>
<path d="M1048.46,923.0V950.2M1047.46,931.5H1049.46V936.4H1047.46Z" stroke="#26a69a" fill="#26a69a"/>
<path d="M1051.74,925.8V947.9M1050.74,927.5H1052.74V931.5H1050.74Z" stroke="#26a69a" fill="#26a69a"/>
<path d="M1055.01,924.6V943.2M1054.01,927.5H1056.01V931.9H1054.01Z" stroke="#ef5350" fill="#ef5350"/>
<path d="M1058.29,908.3V946.7M1057.29,913.0H1059.29V931.9H1057.29Z" stroke="#26a69a" fill="#26a69a"/>
<path d="M1061.56,899.7V920.7M1060.56,905.8H1062.56V913.0H1060.56Z" stroke="#26a69a" fill="#26a69a"/>
<path d="M1064.84,901.3V911.8M1063.84,903.9H1065.84V905.8H1063.84Z" stroke="#26a69a" fill="#26a69a"/>
<path d="M1068.11,905.3V911.8M1067.11,905.7H1069.11V911.4H1067.11Z" stroke="#ef5350" fill="#ef5350"/>
<path d="M1071.39,909.5V944.4M1070.39,911.6H1072.39V942.3H1070.39Z" stroke="#ef5350" fill="#ef5350"/>
<path d="M1074.66,926.9V976.6M1073.66,942.3H1075.66V957.7H1073.66Z" stroke="#ef5350" fill="#ef5350"/>
<path d="M1077.94,945.6V976.6M1076.94,957.7H1078.94V964.2H1076.94Z" stroke="#ef5350" fill="#ef5350"/>
<path d="M1081.21,956.1V977.0M1080.21,957.3H1082.21V964.2H1080.21Z" stroke="#26a69a" fill="#26a69a"/>
<path d="M1084.49,937.9V967.7M1083.49,943.0H1085.49V957.3H1083.49Z" stroke="#26a69a" fill="#26a69a"/>
<path d="M1087.76,939.8V948.6M1086.76,943.0H1088.76V944.6H1086.76Z" stroke="#ef5350" fill="#ef5350"/>
<path d="M1091.04,931.6V946.3M1090.04,932.5H1092.04V944.6H1090.04Z" stroke="#26a69a" fill="#26a69a"/>
<path d="M1094.31,911.3V943.2M1093.31,932.5H1095.31V938.3H1093.31Z" stroke="#ef5350" fill="#ef5350"/>
<path d="M1097.59,929.3V945.6M1096.59,938.3H1098.59V944.6H1096.59Z" stroke="#ef5350" fill="#ef5350"/>
<path d="M1100.86,937.4V965.4M1099.86,944.6H1101.86V963.7H1099.86Z" stroke="#ef5350" fill="#ef5350"/>
<path d="M1104.14,951.4V982.4M1103.14,963.7H1105.14V969.3H1103.14Z" stroke="#ef5350" fill="#ef5350"/>
<path d="M1107.41,922.7V967.2M1106.41,929.7H1108.41V964.6H1106.41Z" stroke="#26a69a" fill="#26a69a"/>
<path d="M1110.69,922.7V935.1M1109.69,927.5H1111.69V929.7H1109.69Z" stroke="#26a69a" fill="#26a69a"/>
<path d="M1113.96,925.8V942.5M1112.96,927.5H1114.96V930.5H1112.96Z" stroke="#ef5350" fill="#ef5350"/>
<path d="M1117.24,881.5V933.9M1116.24,885.8H1118.24V930.5H1116.24Z" stroke="#26a69a" fill="#26a69a"/>
<path d="M1120.51,861.0V901.3M1119.51,864.8H1121.51V885.8H1119.51Z" stroke="#26a69a" fill="#26a69a"/>
<path d="M1123.79,851.7V872.2M1122.79,861.0H1124.79V864.8H1122.79Z" stroke="#26a69a" fill="#26a69a"/>
<path d="M1127.06,854.7V869.9M1126.06,855.6H1128.06V861.0H1126.06Z" stroke="#26a69a" fill="#26a69a"/>
<path d="M1130.34,840.1V861.0M1129.34,849.0H1131.34V855.6H1129.34Z" stroke="#26a69a" fill="#26a69a"/>
<path d="M1133.61,845.4V853.1M1132.61,849.0H1134.61V850.5H1132.61Z" stroke="#ef5350" fill="#ef5350"/>
<path d="M1136.89,836.1V852.4M1135.89,847.6H1137.89V850.5H1135.89Z" stroke="#26a69a" fill="#26a69a"/>
<path d="M1140.16,834.9V866.4M1139.16,847.6H1141.16V862.2H1139.16Z" stroke="#ef5350" fill="#ef5350"/>
<path d="M1143.44,852.4V868.7M1142.44,859.3H1144.44V862.2H1142.44Z" stroke="#26a69a" fill="#26a69a"/>
<path d="M1146.71,853.6V884.3M1145.71,859.3H1147.71V864.8H1145.71Z" stroke="#ef5350" fill="#ef5350"/>
<path d="M1149.99,839.1V866.4M1148.99,859.8H1150.99V864.7H1148.99Z" stroke="#26a69a" fill="#26a69a"/>
<path d="M1153.26,840.8V879.9M1152.26,859.8H1154.26V866.9H1152.26Z" stroke="#ef5350" fill="#ef5350"/>
<path d="M1156.54,853.6V867.5M1155.54,854.4H1157.54V866.7H1155.54Z" stroke="#26a69a" fill="#26a69a"/>
<path d="M1159.81,843.8V861.0M1158.81,844.8H1160.81V854.4H1158.81Z" stroke="#26a69a" fill="#26a69a"/>
<path d="M1163.09,819.8V852.4M1162.09,821.8H1164.09V844.8H1162.09Z" stroke="#26a69a" fill="#26a69a"/>
<path d="M1166.36,772.5V824.5M1165.36,797.3H1167.36V821.3H1165.36Z" stroke="#26a69a" fill="#26a69a"/>
<path d="M1169.64,783.0V823.3M1168.64,797.3H1170.64V810.8H1168.64Z" stroke="#ef5350" fill="#ef5350"/>
<path d="M1172.91,788.8V831.4M1171.91,810.8H1173.91V821.6H1171.91Z" stroke="#ef5350" fill="#ef5350"/>
<path d="M1176.19,802.3V842.4M1175.19,821.6H1177.19V828.9H1175.19Z" stroke="#ef5350" fill="#ef5350"/>
<path d="M1179.46,823.3V833.8M1178.46,827.0H1180.46V828.9H1178.46Z" stroke="#26a69a" fill="#26a69a"/>
<path d="M1182.74,827.5V855.9M1181.74,829.2H1183.74V853.5H1181.74Z" stroke="#ef5350" fill="#ef5350"/>
<path d="M1186.01,834.9V869.4M1185.01,853.5H1187.01V859.7H1185.01Z" stroke="#ef5350" fill="#ef5350"/>
<path d="M1189.29,822.1V860.1M1188.29,824.4H1190.29V857.8H1188.29Z" stroke="#26a69a" fill="#26a69a"/>
<path d="M1192.56,725.9V840.1M1191.56,745.8H1193.56V824.4H1191.56Z" stroke="#26a69a" fill="#26a69a"/>
<path d="M1195.84,724.8V757.4M1194.84,745.8H1196.84V751.7H1194.84Z" stroke="#ef5350" fill="#ef5350"/>
<path d="M1199.11,710.8V739.9M1198.11,726.3H1200.11V738.2H1198.11Z" stroke="#26a69a" fill="#26a69a"/>
<path d="M1202.39,716.6V731.8M1201.39,717.5H1203.39V726.3H1201.39Z" stroke="#26a69a" fill="#26a69a"/>
<path d="M1205.66,660.7V720.1M1204.66,664.3H1206.66V716.5H1204.66Z" stroke="#26a69a" fill="#26a69a"/>
<path d="M1208.94,546.1V673.5M1207.94,581.1H1209.94V664.3H1207.94Z" stroke="#26a69a" fill="#26a69a"/>
<path d="M1212.21,526.1V678.2M1211.21,535.2H1213.21V581.1H1211.21Z" stroke="#26a69a" fill="#26a69a"/>
<path d="M1215.49,472.1V578.7M1214.49,516.0H1216.49V535.2H1214.49Z" stroke="#26a69a" fill="#26a69a"/>
<path d="M1218.76,486.0V555.9M1217.76,516.0H1219.76V528.6H1217.76Z" stroke="#ef5350" fill="#ef5350"/>
<path d="M1222.04,486.5V551.2M1221.04,502.5H1223.04V528.6H1221.04Z" stroke="#26a69a" fill="#26a69a"/>
<path d="M1225.31,490.0V516.3M1224.31,502.5H1226.31V514.7H1224.31Z" stroke="#ef5350" fill="#ef5350"/>
<path d="M1228.59,497.0V531.4M1227.59,514.7H1229.59V520.9H1227.59Z" stroke="#ef5350" fill="#ef5350"/>
<path d="M1231.86,478.3V522.1M1230.86,483.2H1232.86V519.5H1230.86Z" stroke="#26a69a" fill="#26a69a"/>
<path d="M1235.14,462.0V511.6M1234.14,465.0H1236.14V483.2H1234.14Z" stroke="#26a69a" fill="#26a69a"/>
<path d="M1238.41,442.2V492.3M1237.41,445.2H1239.41V465.0H1237.41Z" stroke="#26a69a" fill="#26a69a"/>
<path d="M1241.69,381.7V453.9M1240.69,386.0H1242.69V445.2H1240.69Z" stroke="#26a69a" fill="#26a69a"/>
<path d="M1244.96,361.2V389.8M1243.96,380.9H1245.96V386.0H1243.96Z" stroke="#26a69a" fill="#26a69a"/>
<path d="M1248.24,369.6V402.6M1247.24,380.9H1249.24V397.5H1247.24Z" stroke="#ef5350" fill="#ef5350"/>
<path d="M1251.51,381.7V423.6M1250.51,389.9H1252.51V397.5H1250.51Z" stroke="#26a69a" fill="#26a69a"/>
<path d="M1254.79,375.9V471.4M1253.79,389.9H1255.79V464.9H1253.79Z" stroke="#ef5350" fill="#ef5350"/>
<path d="M1258.06,430.6V492.3M1257.06,464.9H1259.06V476.0H1257.06Z" stroke="#ef5350" fill="#ef5350"/>
<path d="M1261.34,409.2V479.0M1260.34,428.5H1262.34V474.8H1260.34Z" stroke="#26a69a" fill="#26a69a"/>
<path d="M1264.61,418.9V444.6M1263.61,428.5H1265.61V433.1H1263.61Z" stroke="#ef5350" fill="#ef5350"/>
<path d="M1267.89,389.8V436.4M1266.89,420.4H1268.89V433.1H1266.89Z" stroke="#26a69a" fill="#26a69a"/>
<path d="M1271.16,408.5V430.6M1270.16,420.4H1272.16V424.4H1270.16Z" stroke="#ef5350" fill="#ef5350"/>
<path d="M1274.44,403.8V432.9M1273.44,412.3H1275.44V424.4H1273.44Z" stroke="#26a69a" fill="#26a69a"/>
<path d="M1277.71,395.7V439.9M1276.71,412.3H1278.71V437.3H1276.71Z" stroke="#ef5350" fill="#ef5350"/>
<path d="M1280.99,416.6V457.4M1279.99,419.1H1281.99V437.3H1279.99Z" stroke="#26a69a" fill="#26a69a"/>
<path d="M1284.26,378.9V442.2M1283.26,393.7H1285.26V419.1H1283.26Z" stroke="#26a69a" fill="#26a69a"/>
<path d="M1287.54,320.0V441.1M1286.54,393.7H1288.54V415.5H1286.54Z" stroke="#ef5350" fill="#ef5350"/>
<path d="M1290.81,343.9V425.9M1289.81,375.5H1291.81V415.5H1289.81Z" stroke="#26a69a" fill="#26a69a"/>
<path d="M1294.09,366.5V386.3M1293.09,375.5H1295.09V379.0H1293.09Z" stroke="#ef5350" fill="#ef5350"/>
<path d="M1297.36,353.7V389.8M1296.36,372.5H1298.36V379.0H1296.36Z" stroke="#26a69a" fill="#26a69a"/>
<path d="M1300.64,355.6V446.9M1299.64,372.5H1301.64V412.4H1299.64Z" stroke="#ef5350" fill="#ef5350"/>
<path d="M1303.91,386.3V446.9M1302.91,412.4H1304.91V423.3H1302.91Z" stroke="#ef5350" fill="#ef5350"/>
<path d="M1307.19,337.4V427.1M1306.19,349.4H1308.19V421.7H1306.19Z" stroke="#26a69a" fill="#26a69a"/>
<path d="M1310.46,326.9V371.2M1309.46,349.4H1311.46V357.4H1309.46Z" stroke="#ef5350" fill="#ef5350"/>
<path d="M1313.74,336.3V370.0M1312.74,338.3H1314.74V357.4H1312.74Z" stroke="#26a69a" fill="#26a69a"/>
<path d="M1317.01,327.6V353.7M1316.01,338.3H1318.01V343.0H1316.01Z" stroke="#ef5350" fill="#ef5350"/>
<path d="M1320.29,295.5V345.6M1319.29,298.5H1321.29V342.6H1319.29Z" stroke="#26a69a" fill="#26a69a"/>
<path d="M1323.56,255.4V324.6M1322.56,262.4H1324.56V298.5H1322.56Z" stroke="#26a69a" fill="#26a69a"/>
<path d="M1326.84,246.6V285.0M1325.84,255.4H1327.84V262.4H1325.84Z" stroke="#26a69a" fill="#26a69a"/>
<path d="M1330.11,271.0V339.8M1329.11,275.2H1331.11V335.6H1329.11Z" stroke="#ef5350" fill="#ef5350"/>
<path d="M1333.39,310.6V409.6M1332.39,335.6H1334.39V403.7H1332.39Z" stroke="#ef5350" fill="#ef5350"/>
<path d="M1336.66,372.4V464.4M1335.66,403.7H1337.66V420.3H1335.66Z" stroke="#ef5350" fill="#ef5350"/>
<path d="M1339.94,353.7V403.8M1338.94,391.8H1340.94V400.8H1338.94Z" stroke="#ef5350" fill="#ef5350"/>
<path d="M1343.21,386.3V435.3M1342.21,400.8H1344.21V419.4H1342.21Z" stroke="#ef5350" fill="#ef5350"/>
<path d="M1346.49,393.3V458.1M1345.49,419.4H1347.49V431.1H1345.49Z" stroke="#ef5350" fill="#ef5350"/>
<path d="M1349.76,356.1V443.4M1348.76,378.1H1350.76V431.1H1348.76Z" stroke="#26a69a" fill="#26a69a"/>
<path d="M1353.04,355.6V418.9M1352.04,366.7H1354.04V378.1H1352.04Z" stroke="#26a69a" fill="#26a69a"/>
<path d="M1356.31,350.9V418.9M1355.31,366.7H1357.31V407.4H1355.31Z" stroke="#ef5350" fill="#ef5350"/>
<path d="M1359.59,386.3V445.7M1358.59,407.4H1360.59V429.1H1358.59Z" stroke="#ef5350" fill="#ef5350"/>
<path d="M1362.86,417.8V437.6M1361.86,425.5H1363.86V429.1H1361.86Z" stroke="#26a69a" fill="#26a69a"/>
<path d="M1366.14,422.4V457.4M1365.14,425.5H1367.14V444.0H1365.14Z" stroke="#ef5350" fill="#ef5350"/>
<path d="M1369.41,423.6V473.7M1368.41,444.0H1370.41V453.0H1368.41Z" stroke="#ef5350" fill="#ef5350"/>
<path d="M1372.69,402.6V467.4M1371.69,435.7H1373.69V453.0H1371.69Z" stroke="#26a69a" fill="#26a69a"/>
<path d="M1375.96,416.6V446.9M1374.96,418.4H1376.96V435.7H1374.96Z" stroke="#26a69a" fill="#26a69a"/>
<path d="M1379.24,363.0V425.9M1378.24,373.4H1380.24V418.4H1378.24Z" stroke="#26a69a" fill="#26a69a"/>
<path d="M1382.51,350.9V388.7M1381.51,363.2H1383.51V373.4H1381.51Z" stroke="#26a69a" fill="#26a69a"/>
<path d="M1385.79,353.7V373.5M1384.79,359.7H1386.79V363.2H1384.79Z" stroke="#26a69a" fill="#26a69a"/>
<path d="M1389.06,354.9V374.7M1388.06,356.1H1390.06V359.7H1388.06Z" stroke="#26a69a" fill="#26a69a"/>
<path d="M1392.34,313.0V367.7M1391.34,343.4H1393.34V356.1H1391.34Z" stroke="#26a69a" fill="#26a69a"/>
<path d="M1395.61,307.6V384.0M1394.61,343.4H1396.61V379.4H1394.61Z" stroke="#ef5350" fill="#ef5350"/>
<path d="M1398.89,380.5V443.4M1397.89,384.3H1399.89V434.7H1397.89Z" stroke="#ef5350" fill="#ef5350"/>
<path d="M1402.16,400.3V462.0M1401.16,434.7H1403.16V445.8H1401.16Z" stroke="#ef5350" fill="#ef5350"/>
<path d="M1405.44,389.1V443.4M1404.44,409.0H1406.44V440.1H1404.44Z" stroke="#26a69a" fill="#26a69a"/>
<path d="M1408.71,402.6V416.6M1407.71,409.0H1409.71V411.5H1407.71Z" stroke="#ef5350" fill="#ef5350"/>
<path d="M1411.99,396.8V418.9M1410.99,407.5H1412.99V411.5H1410.99Z" stroke="#26a69a" fill="#26a69a"/>
<path d="M1415.26,388.2V478.3M1414.26,407.5H1416.26V423.7H1414.26Z" stroke="#ef5350" fill="#ef5350"/>
<path d="M1418.54,367.7V410.8M1417.54,370.3H1419.54V408.2H1417.54Z" stroke="#26a69a" fill="#26a69a"/>
<path d="M1421.81,325.8V386.3M1420.81,346.4H1422.81V370.3H1420.81Z" stroke="#26a69a" fill="#26a69a"/>
<path d="M1425.09,325.8V371.2M1424.09,346.4H1426.09V354.6H1424.09Z" stroke="#ef5350" fill="#ef5350"/>
<path d="M1428.36,248.9V337.4M1427.36,284.7H1429.36V332.1H1427.36Z" stroke="#26a69a" fill="#26a69a"/>
<path d="M1431.64,265.2V315.3M1430.64,284.7H1432.64V312.3H1430.64Z" stroke="#ef5350" fill="#ef5350"/>
<path d="M1434.91,237.3V554.7M1433.91,312.3H1435.91V369.4H1433.91Z" stroke="#ef5350" fill="#ef5350"/>
<path d="M1438.19,201.2V339.8M1437.19,306.5H1439.19V331.4H1437.19Z" stroke="#ef5350" fill="#ef5350"/>
<path d="M1441.46,248.9V343.2M1440.46,277.3H1442.46V331.4H1440.46Z" stroke="#26a69a" fill="#26a69a"/>
<path d="M1444.74,260.6V302.5M1443.74,277.3H1445.74V284.8H1443.74Z" stroke="#ef5350" fill="#ef5350"/>
<path d="M1448.01,251.2V331.6M1447.01,270.4H1449.01V284.8H1447.01Z" stroke="#26a69a" fill="#26a69a"/>
<path d="M1451.29,261.7V314.1M1450.29,264.9H1452.29V274.3H1450.29Z" stroke="#26a69a" fill="#26a69a"/>
<path d="M1454.56,286.2V300.2M1453.56,287.0H1455.56V299.3H1453.56Z" stroke="#ef5350" fill="#ef5350"/>
<path d="M1457.84,282.7V321.1M1456.84,299.3H1458.84V318.8H1456.84Z" stroke="#ef5350" fill="#ef5350"/>
<path d="M1461.11,293.2V391.0M1460.11,318.8H1462.11V336.4H1460.11Z" stroke="#ef5350" fill="#ef5350"/>
<path d="M1464.39,301.3V350.2M1463.39,336.4H1465.39V345.2H1463.39Z" stroke="#ef5350" fill="#ef5350"/>
<path d="M1467.66,282.7V335.1M1466.66,285.8H1468.66V331.9H1466.66Z" stroke="#26a69a" fill="#26a69a"/>
<path d="M1470.94,263.4V304.8M1469.94,278.4H1471.94V285.8H1469.94Z" stroke="#26a69a" fill="#26a69a"/>
<path d="M1474.21,263.4V321.1M1473.21,278.4H1475.21V317.7H1473.21Z" stroke="#ef5350" fill="#ef5350"/>
<path d="M1477.49,304.8V337.4M1476.49,317.7H1478.49V335.5H1476.49Z" stroke="#ef5350" fill="#ef5350"/>
<path d="M1480.76,311.8V374.7M1479.76,335.5H1481.76V370.9H1479.76Z" stroke="#ef5350" fill="#ef5350"/>
<path d="M1484.04,300.6V441.1M1483.04,345.6H1485.04V370.9H1483.04Z" stroke="#26a69a" fill="#26a69a"/>
<path d="M1487.31,310.6V400.3M1486.31,345.6H1488.31V383.4H1486.31Z" stroke="#ef5350" fill="#ef5350"/>
<path d="M1490.59,363.0V402.6M1489.59,383.4H1491.59V390.5H1489.59Z" stroke="#ef5350" fill="#ef5350"/>
<path d="M1493.86,356.5V407.8M1492.86,380.2H1494.86V390.5H1492.86Z" stroke="#26a69a" fill="#26a69a"/>
<path d="M1497.14,344.4V400.3M1496.14,370.1H1498.14V380.2H1496.14Z" stroke="#26a69a" fill="#26a69a"/>
<path d="M1500.41,384.0V398.0M1499.41,384.8H1501.41V391.9H1499.41Z" stroke="#ef5350" fill="#ef5350"/>
<path d="M1503.69,377.0V409.6M1502.69,379.0H1504.69V391.9H1502.69Z" stroke="#26a69a" fill="#26a69a"/>
<path d="M1506.96,362.6V393.3M1505.96,373.4H1507.96V379.0H1505.96Z" stroke="#26a69a" fill="#26a69a"/>
<path d="M1510.24,358.4V418.5M1509.24,373.4H1511.24V399.4H1509.24Z" stroke="#ef5350" fill="#ef5350"/>
<path d="M1513.51,375.9V423.6M1512.51,390.8H1514.51V399.4H1512.51Z" stroke="#26a69a" fill="#26a69a"/>
<path d="M1516.79,377.7V421.3M1515.79,390.8H1517.79V398.6H1515.79Z" stroke="#ef5350" fill="#ef5350"/>
<path d="M1520.06,380.5V414.3M1519.06,392.5H1521.06V398.6H1519.06Z" stroke="#26a69a" fill="#26a69a"/>
<path d="M1523.34,392.2V409.6M1522.34,393.2H1524.34V396.4H1522.34Z" stroke="#26a69a" fill="#26a69a"/>
<path d="M1526.61,393.3V416.6M1525.61,394.7H1527.61V411.5H1525.61Z" stroke="#ef5350" fill="#ef5350"/>
<path d="M1529.89,399.8V427.1M1528.89,411.5H1530.89V420.6H1528.89Z" stroke="#ef5350" fill="#ef5350"/>
<path d="M1533.16,402.6V450.4M1532.16,412.0H1534.16V420.6H1532.16Z" stroke="#26a69a" fill="#26a69a"/>
<path d="M1536.44,399.1V427.1M1535.44,400.8H1537.44V412.0H1535.44Z" stroke="#26a69a" fill="#26a69a"/>
<path d="M1539.71,381.7V416.6M1538.71,390.0H1540.71V400.8H1538.71Z" stroke="#26a69a" fill="#26a69a"/>
<path d="M1542.99,367.2V431.1M1541.99,390.0H1543.99V407.8H1541.99Z" stroke="#ef5350" fill="#ef5350"/>
<path d="M1546.26,400.8V416.6M1545.26,404.9H1547.26V407.8H1545.26Z" stroke="#26a69a" fill="#26a69a"/>
<path d="M1549.54,405.0V424.8M1548.54,406.2H1550.54V423.6H1548.54Z" stroke="#ef5350" fill="#ef5350"/>
<path d="M1552.81,410.8V480.7M1551.81,423.6H1553.81V476.5H1551.81Z" stroke="#ef5350" fill="#ef5350"/>
<path d="M1556.09,466.7V565.2M1555.09,476.5H1557.09V559.3H1555.09Z" stroke="#ef5350" fill="#ef5350"/>
<path d="M1559.36,515.1V621.1M1558.36,559.3H1560.36V578.4H1558.36Z" stroke="#ef5350" fill="#ef5350"/>
<path d="M1562.64,546.6V599.7M1561.64,568.8H1563.64V578.4H1561.64Z" stroke="#26a69a" fill="#26a69a"/>
<path d="M1565.91,569.9V664.2M1564.91,575.5H1566.91V592.5H1564.91Z" stroke="#ef5350" fill="#ef5350"/>
<path d="M1569.19,540.8V579.2M1568.19,543.1H1570.19V576.9H1568.19Z" stroke="#26a69a" fill="#26a69a"/>
<path d="M1572.46,412.4V569.9M1571.46,495.1H1573.46V543.1H1571.46Z" stroke="#26a69a" fill="#26a69a"/>
<path d="M1575.74,430.6V574.5M1574.74,495.1H1576.74V565.9H1574.74Z" stroke="#ef5350" fill="#ef5350"/>
<path d="M1579.01,534.9V626.9M1578.01,540.5H1580.01V565.9H1578.01Z" stroke="#26a69a" fill="#26a69a"/>
<path d="M1582.29,516.3V569.9M1581.29,530.8H1583.29V540.5H1581.29Z" stroke="#26a69a" fill="#26a69a"/>
<path d="M1585.56,503.5V567.5M1584.56,530.8H1586.56V563.7H1584.56Z" stroke="#ef5350" fill="#ef5350"/>
<path d="M1588.84,522.1V613.0M1587.84,563.7H1589.84V597.4H1587.84Z" stroke="#ef5350" fill="#ef5350"/>
<path d="M1592.11,588.5V613.0M1591.11,597.4H1593.11V611.5H1591.11Z" stroke="#ef5350" fill="#ef5350"/>
<path d="M1595.39,593.2V687.5M1594.39,611.5H1596.39V681.8H1594.39Z" stroke="#ef5350" fill="#ef5350"/>
<path d="M1598.66,626.9V720.1M1597.66,681.8H1599.66V698.6H1597.66Z" stroke="#ef5350" fill="#ef5350"/>
<path d="M1601.94,644.4V732.9M1600.94,653.5H1602.94V698.6H1600.94Z" stroke="#26a69a" fill="#26a69a"/>
<path d="M1605.21,622.3V677.0M1604.21,643.6H1606.21V653.5H1604.21Z" stroke="#26a69a" fill="#26a69a"/>
<path d="M1608.49,630.4V687.5M1607.49,643.6H1609.49V653.9H1607.49Z" stroke="#ef5350" fill="#ef5350"/>
<path d="M1611.76,614.1V674.2M1610.76,639.4H1612.76V653.9H1610.76Z" stroke="#26a69a" fill="#26a69a"/>
<path d="M1615.04,624.6V653.7M1614.04,634.1H1616.04V639.4H1614.04Z" stroke="#26a69a" fill="#26a69a"/>
<path d="M1618.31,618.8V660.7M1617.31,634.1H1619.31V644.9H1617.31Z" stroke="#ef5350" fill="#ef5350"/>
<path d="M1621.59,628.1V656.1M1620.59,639.9H1622.59V644.9H1620.59Z" stroke="#26a69a" fill="#26a69a"/>
<path d="M1624.86,636.3V678.2M1623.86,639.9H1625.86V647.4H1623.86Z" stroke="#ef5350" fill="#ef5350"/>
<path d="M1628.14,595.5V659.6M1627.14,613.9H1629.14V647.4H1627.14Z" stroke="#26a69a" fill="#26a69a"/>
<path d="M1631.41,590.4V635.1M1630.41,613.9H1632.41V631.3H1630.41Z" stroke="#ef5350" fill="#ef5350"/>
<path d="M1634.69,617.6V639.8M1633.69,626.4H1635.69V631.3H1633.69Z" stroke="#26a69a" fill="#26a69a"/>
<path d="M1637.96,620.0V631.6M1636.96,626.4H1638.96V628.5H1636.96Z" stroke="#ef5350" fill="#ef5350"/>
<path d="M1641.24,597.8V630.4M1640.24,599.8H1642.24V628.5H1640.24Z" stroke="#26a69a" fill="#26a69a"/>
<path d="M1644.51,560.1V606.7M1643.51,572.6H1645.51V599.8H1643.51Z" stroke="#26a69a" fill="#26a69a"/>
<path d="M1647.79,561.0V593.2M1646.79,566.8H1648.79V572.6H1646.79Z" stroke="#26a69a" fill="#26a69a"/>
<path d="M1651.06,564.1V593.2M1650.06,566.8H1652.06V582.7H1650.06Z" stroke="#ef5350" fill="#ef5350"/>
<path d="M1654.34,569.9V597.8M1653.34,582.7H1655.34V596.1H1653.34Z" stroke="#ef5350" fill="#ef5350"/>
<path d="M1657.61,575.7V632.8M1656.61,596.1H1658.61V629.3H1656.61Z" stroke="#ef5350" fill="#ef5350"/>
<path d="M1660.89,620.0V659.6M1659.89,629.3H1661.89V641.0H1659.89Z" stroke="#ef5350" fill="#ef5350"/>
<path d="M1664.16,621.1V659.6M1663.16,641.0H1665.16V647.9H1663.16Z" stroke="#ef5350" fill="#ef5350"/>
<path d="M1667.44,626.9V665.4M1666.44,629.2H1668.44V647.9H1666.44Z" stroke="#26a69a" fill="#26a69a"/>
<path d="M1670.71,603.2V650.2M1669.71,620.3H1671.71V629.2H1669.71Z" stroke="#26a69a" fill="#26a69a"/>
<path d="M1673.99,572.9V658.4M1672.99,620.3H1674.99V653.3H1672.99Z" stroke="#ef5350" fill="#ef5350"/>
<path d="M1677.26,638.6V695.7M1676.26,653.3H1678.26V663.5H1676.26Z" stroke="#ef5350" fill="#ef5350"/>
<path d="M1680.54,632.8V682.8M1679.54,654.0H1681.54V663.5H1679.54Z" stroke="#26a69a" fill="#26a69a"/>
<path d="M1683.81,639.3V664.2M1682.81,654.0H1684.81V662.7H1682.81Z" stroke="#ef5350" fill="#ef5350"/>
<path d="M1687.09,645.6V741.1M1686.09,662.7H1688.09V729.5H1686.09Z" stroke="#ef5350" fill="#ef5350"/>
<path d="M1690.36,678.2V780.7M1689.36,711.1H1691.36V729.5H1689.36Z" stroke="#26a69a" fill="#26a69a"/>
<path d="M1693.64,686.3V751.6M1692.64,711.1H1694.64V722.8H1692.64Z" stroke="#ef5350" fill="#ef5350"/>
<path d="M1696.91,646.3V777.6M1695.91,688.7H1697.91V722.8H1695.91Z" stroke="#26a69a" fill="#26a69a"/>
<path d="M1700.19,658.4V740.4M1699.19,688.7H1701.19V718.3H1699.19Z" stroke="#ef5350" fill="#ef5350"/>
<path d="M1703.46,684.0V744.1M1702.46,687.6H1704.46V718.3H1702.46Z" stroke="#26a69a" fill="#26a69a"/>
<path d="M1706.74,656.5V698.0M1705.74,668.8H1707.74V687.6H1705.74Z" stroke="#26a69a" fill="#26a69a"/>
<path d="M1710.01,654.9V692.2M1709.01,668.8H1711.01V675.5H1709.01Z" stroke="#ef5350" fill="#ef5350"/>
<path d="M1713.29,658.4V686.3M1712.29,667.4H1714.29V675.5H1712.29Z" stroke="#26a69a" fill="#26a69a"/>
<path d="M1716.56,645.6V684.0M1715.56,667.4H1717.56V676.7H1715.56Z" stroke="#ef5350" fill="#ef5350"/>
<path d="M1719.84,664.2V694.5M1718.84,676.7H1720.84V682.1H1718.84Z" stroke="#ef5350" fill="#ef5350"/>
<path d="M1723.11,663.0V687.5M1722.11,677.1H1724.11V682.1H1722.11Z" stroke="#26a69a" fill="#26a69a"/>
<path d="M1726.39,668.9V681.7M1725.39,677.1H1727.39V679.4H1725.39Z" stroke="#ef5350" fill="#ef5350"/>
<path d="M1729.66,664.2V681.7M1728.66,676.3H1730.66V679.4H1728.66Z" stroke="#26a69a" fill="#26a69a"/>
<path d="M1732.94,670.0V685.2M1731.94,676.3H1733.94V679.0H1731.94Z" stroke="#ef5350" fill="#ef5350"/>
<path d="M1736.21,638.6V677.0M1735.21,640.9H1737.21V674.7H1735.21Z" stroke="#26a69a" fill="#26a69a"/>
<path d="M1739.49,552.4V653.7M1738.49,565.2H1740.49V640.9H1738.49Z" stroke="#26a69a" fill="#26a69a"/>
<path d="M1742.76,544.3V580.4M1741.76,558.7H1743.76V565.2H1741.76Z" stroke="#26a69a" fill="#26a69a"/>
<path d="M1746.04,550.1V582.0M1745.04,558.7H1747.04V564.4H1745.04Z" stroke="#ef5350" fill="#ef5350"/>
<path d="M1749.31,527.5V563.4M1748.31,541.5H1750.31V561.2H1748.31Z" stroke="#26a69a" fill="#26a69a"/>
<path d="M1752.59,534.9V552.4M1751.59,541.5H1753.59V544.6H1751.59Z" stroke="#ef5350" fill="#ef5350"/>
<path d="M1755.86,532.6V554.7M1754.86,544.6H1756.86V548.6H1754.86Z" stroke="#ef5350" fill="#ef5350"/>
<path d="M1759.14,528.4V564.1M1758.14,542.2H1760.14V548.6H1758.14Z" stroke="#26a69a" fill="#26a69a"/>
<path d="M1762.41,533.8V555.9M1761.41,542.2H1763.41V548.3H1761.41Z" stroke="#ef5350" fill="#ef5350"/>
<path d="M1765.69,534.9V565.2M1764.69,536.8H1766.69V548.3H1764.69Z" stroke="#26a69a" fill="#26a69a"/>
<path d="M1768.96,495.8V545.4M1767.96,501.4H1769.96V536.8H1767.96Z" stroke="#26a69a" fill="#26a69a"/>
<path d="M1772.24,495.8V511.6M1771.24,498.6H1773.24V501.4H1771.24Z" stroke="#26a69a" fill="#26a69a"/>
<path d="M1775.51,503.5V519.8M1774.51,504.5H1776.51V518.8H1774.51Z" stroke="#ef5350" fill="#ef5350"/>
<path d="M1778.79,511.6V543.8M1777.79,518.8H1779.79V541.9H1777.79Z" stroke="#ef5350" fill="#ef5350"/>
<path d="M1782.06,530.3V554.7M1781.06,535.9H1783.06V541.9H1781.06Z" stroke="#26a69a" fill="#26a69a"/>
<path d="M1785.34,509.3V557.1M1784.34,512.7H1786.34V535.9H1784.34Z" stroke="#26a69a" fill="#26a69a"/>
<path d="M1788.61,498.1V524.5M1787.61,499.7H1789.61V512.7H1787.61Z" stroke="#26a69a" fill="#26a69a"/>
<path d="M1791.89,401.5V507.0M1790.89,416.2H1792.89V499.7H1790.89Z" stroke="#26a69a" fill="#26a69a"/>
<path d="M1795.16,401.5V430.6M1794.16,416.2H1796.16V421.4H1794.16Z" stroke="#ef5350" fill="#ef5350"/>
<path d="M1798.44,393.8V421.3M1797.44,404.2H1799.44V419.6H1797.44Z" stroke="#26a69a" fill="#26a69a"/>
<path d="M1801.71,394.5V414.3M1800.71,404.2H1802.71V407.8H1800.71Z" stroke="#ef5350" fill="#ef5350"/>
<path d="M1804.99,368.9V430.6M1803.99,407.8H1805.99V418.9H1803.99Z" stroke="#ef5350" fill="#ef5350"/>
<path d="M1808.26,385.2V420.1M1807.26,404.5H1809.26V418.0H1807.26Z" stroke="#26a69a" fill="#26a69a"/>
<path d="M1811.54,394.5V418.9M1810.54,404.5H1812.54V417.5H1810.54Z" stroke="#ef5350" fill="#ef5350"/>
<path d="M1814.81,393.3V431.8M1813.81,400.4H1815.81V417.5H1813.81Z" stroke="#26a69a" fill="#26a69a"/>
<path d="M1818.09,384.7V409.6M1817.09,400.4H1819.09V404.9H1817.09Z" stroke="#ef5350" fill="#ef5350"/>
<path d="M1821.36,396.8V412.0M1820.36,404.9H1822.36V407.6H1820.36Z" stroke="#ef5350" fill="#ef5350"/>
<path d="M1824.64,362.6V407.3M1823.64,396.6H1825.64V404.6H1823.64Z" stroke="#26a69a" fill="#26a69a"/>
<path d="M1827.91,357.2V430.6M1826.91,396.6H1828.91V409.8H1826.91Z" stroke="#ef5350" fill="#ef5350"/>
<path d="M1831.19,364.2V400.8M1830.19,366.4H1832.19V398.6H1830.19Z" stroke="#26a69a" fill="#26a69a"/>
<path d="M1834.46,325.8V387.5M1833.46,329.5H1835.46V366.4H1833.46Z" stroke="#26a69a" fill="#26a69a"/>
<path d="M1837.74,302.5V346.7M1836.74,321.5H1838.74V329.5H1836.74Z" stroke="#26a69a" fill="#26a69a"/>
<path d="M1841.01,307.6V380.5M1840.01,321.5H1842.01V368.1H1840.01Z" stroke="#ef5350" fill="#ef5350"/>
<path d="M1844.29,346.7V380.5M1843.29,362.1H1845.29V368.1H1843.29Z" stroke="#26a69a" fill="#26a69a"/>
<path d="M1847.56,349.1V381.7M1846.56,351.0H1848.56V362.1H1846.56Z" stroke="#26a69a" fill="#26a69a"/>
<path d="M1850.84,336.3V358.4M1849.84,347.0H1851.84V351.0H1849.84Z" stroke="#26a69a" fill="#26a69a"/>
<path d="M1854.11,329.3V375.9M1853.11,347.0H1855.11V358.4H1853.11Z" stroke="#ef5350" fill="#ef5350"/>
<path d="M1857.39,343.9V372.4M1856.39,358.4H1858.39V370.7H1856.39Z" stroke="#ef5350" fill="#ef5350"/>
<path d="M1860.66,343.9V400.3M1859.66,370.7H1861.66V396.9H1859.66Z" stroke="#ef5350" fill="#ef5350"/>
<path d="M1863.94,385.2V418.9M1862.94,396.9H1864.94V415.6H1862.94Z" stroke="#ef5350" fill="#ef5350"/>
<path d="M1867.21,400.3V425.9M1866.21,404.1H1868.21V415.6H1866.21Z" stroke="#26a69a" fill="#26a69a"/>
<path d="M1870.49,391.5V416.6M1869.49,399.6H1871.49V404.1H1869.49Z" stroke="#26a69a" fill="#26a69a"/>
<path d="M1873.76,391.5V429.4M1872.76,399.6H1874.76V406.4H1872.76Z" stroke="#ef5350" fill="#ef5350"/>
<path d="M1877.04,382.4V410.8M1876.04,401.3H1878.04V406.4H1876.04Z" stroke="#26a69a" fill="#26a69a"/>
<path d="M1880.31,394.5V421.3M1879.31,401.3H1881.31V419.7H1879.31Z" stroke="#ef5350" fill="#ef5350"/>
<path d="M1883.59,400.3V474.8M1882.59,419.7H1884.59V433.8H1882.59Z" stroke="#ef5350" fill="#ef5350"/>
<path d="M1886.86,402.6V465.5M1885.86,406.7H1887.86V433.8H1885.86Z" stroke="#26a69a" fill="#26a69a"/>
<path d="M1890.14,398.0V422.4M1889.14,399.5H1891.14V406.7H1889.14Z" stroke="#26a69a" fill="#26a69a"/>
<path d="M1893.41,389.8V407.3M1892.41,390.9H1894.41V399.5H1892.41Z" stroke="#26a69a" fill="#26a69a"/>
<path d="M1896.69,340.2V407.3M1895.69,354.8H1897.69V390.9H1895.69Z" stroke="#26a69a" fill="#26a69a"/>
<path d="M1899.96,342.5V367.7M1898.96,354.8H1900.96V360.6H1898.96Z" stroke="#ef5350" fill="#ef5350"/>
<path d="M1903.24,343.9V381.7M1902.24,360.6H1904.24V379.4H1902.24Z" stroke="#ef5350" fill="#ef5350"/>
<path d="M1906.51,372.8V425.9M1905.51,379.4H1907.51V422.7H1905.51Z" stroke="#ef5350" fill="#ef5350"/>
<path d="M1909.79,412.0V455.0M1908.79,415.0H1910.79V422.7H1908.79Z" stroke="#26a69a" fill="#26a69a"/>
<path d="M1913.06,411.5V435.3M1912.06,415.0H1914.06V423.4H1912.06Z" stroke="#ef5350" fill="#ef5350"/>
<path d="M1916.34,410.8V431.8M1915.34,412.1H1917.34V423.4H1915.34Z" stroke="#26a69a" fill="#26a69a"/>
<path d="M1919.61,377.7V425.9M1918.61,403.4H1920.61V412.1H1918.61Z" stroke="#26a69a" fill="#26a69a"/>
<path d="M1922.89,394.0V442.2M1921.89,403.4H1923.89V429.9H1921.89Z" stroke="#ef5350" fill="#ef5350"/>
<path d="M1926.16,415.5V439.4M1925.16,421.7H1927.16V429.9H1925.16Z" stroke="#26a69a" fill="#26a69a"/>
<path d="M1929.44,415.5V431.8M1928.44,421.7H1930.44V430.8H1928.44Z" stroke="#ef5350" fill="#ef5350"/>
<path d="M1932.71,405.0V460.9M1931.71,430.8H1933.71V457.5H1931.71Z" stroke="#ef5350" fill="#ef5350"/>
<path d="M1935.99,437.6V477.2M1934.99,457.5H1936.99V474.8H1934.99Z" stroke="#ef5350" fill="#ef5350"/>
<path d="M1939.26,444.6V510.5M1938.26,474.8H1940.26V486.7H1938.26Z" stroke="#ef5350" fill="#ef5350"/>
<path d="M1942.54,418.9V493.5M1941.54,426.4H1943.54V486.7H1941.54Z" stroke="#26a69a" fill="#26a69a"/>
<path d="M1945.81,417.8V436.4M1944.81,418.9H1946.81V426.4H1944.81Z" stroke="#26a69a" fill="#26a69a"/>
<path d="M1949.09,393.3V423.6M1948.09,413.4H1950.09V418.9H1948.09Z" stroke="#26a69a" fill="#26a69a"/>
<path d="M1952.36,403.1V423.6M1951.36,413.4H1953.36V417.6H1951.36Z" stroke="#ef5350" fill="#ef5350"/>
<path d="M1955.64,404.5V429.4M1954.64,417.6H1956.64V422.1H1954.64Z" stroke="#ef5350" fill="#ef5350"/>
<path d="M1958.91,414.3V422.4M1957.91,414.8H1959.91V422.0H1957.91Z" stroke="#26a69a" fill="#26a69a"/>
<path d="M1962.19,402.6V421.3M1961.19,411.4H1963.19V414.8H1961.19Z" stroke="#26a69a" fill="#26a69a"/>
<path d="M1965.46,399.1V429.4M1964.46,411.4H1966.46V422.7H1964.46Z" stroke="#ef5350" fill="#ef5350"/>
<path d="M1968.74,406.1V451.6M1967.74,422.7H1969.74V430.9H1967.74Z" stroke="#ef5350" fill="#ef5350"/>
<path d="M1972.01,395.7V455.0M1971.01,399.9H1973.01V430.9H1971.01Z" stroke="#26a69a" fill="#26a69a"/>
<path d="M1975.29,383.5V410.8M1974.29,395.0H1976.29V399.9H1974.29Z" stroke="#26a69a" fill="#26a69a"/>
<path d="M1978.56,392.2V424.8M1977.56,395.0H1979.56V414.3H1977.56Z" stroke="#ef5350" fill="#ef5350"/>
<path d="M1981.84,408.5V417.8M1980.84,409.0H1982.84V414.3H1980.84Z" stroke="#26a69a" fill="#26a69a"/>
<path d="M1985.11,394.5V416.6M1984.11,402.5H1986.11V409.0H1984.11Z" stroke="#26a69a" fill="#26a69a"/>
<path d="M1988.39,394.5V413.1M1987.39,402.5H1989.39V406.0H1987.39Z" stroke="#ef5350" fill="#ef5350"/>
<path d="M1991.66,392.9V418.9M1990.66,394.4H1992.66V406.0H1990.66Z" stroke="#26a69a" fill="#26a69a"/>
<path d="M1994.94,359.6V402.6M1993.94,362.1H1995.94V394.4H1993.94Z" stroke="#26a69a" fill="#26a69a"/>
<path d="M1998.21,297.8V373.5M1997.21,302.4H1999.21V362.1H1997.21Z" stroke="#26a69a" fill="#26a69a"/>
<path d="M2001.49,274.5V315.3M2000.49,295.0H2002.49V302.4H2000.49Z" stroke="#26a69a" fill="#26a69a"/>
<path d="M2004.76,283.9V302.5M2003.76,295.0H2005.76V298.4H2003.76Z" stroke="#ef5350" fill="#ef5350"/>
<path d="M2008.04,262.9V295.5M2007.04,264.8H2009.04V293.5H2007.04Z" stroke="#26a69a" fill="#26a69a"/>
<path d="M2011.31,226.8V269.9M2010.31,257.1H2012.31V264.8H2010.31Z" stroke="#26a69a" fill="#26a69a"/>
<path d="M2014.59,251.2V300.2M2013.59,257.1H2015.59V267.5H2013.59Z" stroke="#ef5350" fill="#ef5350"/>
<path d="M2017.86,245.4V280.4M2016.86,251.1H2018.86V267.5H2016.86Z" stroke="#26a69a" fill="#26a69a"/>
<path d="M2021.14,228.6V272.2M2020.14,243.2H2022.14V251.1H2020.14Z" stroke="#26a69a" fill="#26a69a"/>
<path d="M2024.41,233.1V284.3M2023.41,243.2H2025.41V268.1H2023.41Z" stroke="#ef5350" fill="#ef5350"/>
<path d="M2027.69,261.7V279.2M2026.69,268.1H2028.69V277.3H2026.69Z" stroke="#ef5350" fill="#ef5350"/>
<path d="M2030.96,261.0V289.7M2029.96,277.3H2031.96V282.5H2029.96Z" stroke="#ef5350" fill="#ef5350"/>
<path d="M2034.24,251.2V294.3M2033.24,282.5H2035.24V290.3H2033.24Z" stroke="#ef5350" fill="#ef5350"/>
<path d="M2037.51,257.1V300.2M2036.51,278.6H2038.51V290.3H2036.51Z" stroke="#26a69a" fill="#26a69a"/>
<path d="M2040.79,257.1V296.7M2039.79,278.6H2041.79V285.7H2039.79Z" stroke="#ef5350" fill="#ef5350"/>
<path d="M2044.06,267.5V296.7M2043.06,285.7H2045.06V294.9H2043.06Z" stroke="#ef5350" fill="#ef5350"/>
<path d="M2047.34,280.4V326.9M2046.34,294.9H2048.34V303.3H2046.34Z" stroke="#ef5350" fill="#ef5350"/>
<path d="M2050.61,280.4V295.5M2049.61,281.3H2051.61V294.6H2049.61Z" stroke="#26a69a" fill="#26a69a"/>
<path d="M2053.89,265.2V287.3M2052.89,266.5H2054.89V281.3H2052.89Z" stroke="#26a69a" fill="#26a69a"/>
<path d="M2057.16,257.1V273.4M2056.16,258.0H2058.16V266.5H2056.16Z" stroke="#26a69a" fill="#26a69a"/>
<path d="M2060.44,243.1V272.2M2059.44,252.8H2061.44V258.0H2059.44Z" stroke="#26a69a" fill="#26a69a"/>
<path d="M2063.71,241.5V271.0M2062.71,247.5H2064.71V252.8H2062.71Z" stroke="#26a69a" fill="#26a69a"/>
<path d="M2066.99,232.6V273.4M2065.99,247.5H2067.99V270.9H2065.99Z" stroke="#ef5350" fill="#ef5350"/>
<path d="M2070.26,267.5V335.1M2069.26,271.6H2071.26V324.3H2069.26Z" stroke="#ef5350" fill="#ef5350"/>
<path d="M2073.54,311.8V340.9M2072.54,324.3H2074.54V329.5H2072.54Z" stroke="#ef5350" fill="#ef5350"/>
<path d="M2076.81,308.3V341.6M2075.81,310.3H2077.81V329.5H2075.81Z" stroke="#26a69a" fill="#26a69a"/>
<path d="M2080.09,291.5V314.1M2079.09,306.2H2081.09V310.3H2079.09Z" stroke="#26a69a" fill="#26a69a"/>
<path d="M2083.36,295.5V330.4M2082.36,306.2H2084.36V312.5H2082.36Z" stroke="#ef5350" fill="#ef5350"/>
<path d="M2086.64,299.0V324.6M2085.64,300.5H2087.64V312.5H2085.64Z" stroke="#26a69a" fill="#26a69a"/>
<path d="M2089.91,278.0V322.3M2088.91,287.5H2090.91V300.5H2088.91Z" stroke="#26a69a" fill="#26a69a"/>
<path d="M2093.19,279.2V300.2M2092.19,287.5H2094.19V291.3H2092.19Z" stroke="#ef5350" fill="#ef5350"/>
<path d="M2096.46,276.9V299.0M2095.46,291.3H2097.46V295.3H2095.46Z" stroke="#ef5350" fill="#ef5350"/>
<path d="M2099.74,257.1V299.0M2098.74,259.6H2100.74V295.3H2098.74Z" stroke="#26a69a" fill="#26a69a"/>
<path d="M2103.01,224.5V266.4M2102.01,256.3H2104.01V263.9H2102.01Z" stroke="#ef5350" fill="#ef5350"/>
<path d="M2106.29,247.7V265.2M2105.29,248.8H2107.29V263.9H2105.29Z" stroke="#26a69a" fill="#26a69a"/>
<path d="M2109.56,216.3V264.1M2108.56,240.2H2110.56V248.8H2108.56Z" stroke="#26a69a" fill="#26a69a"/>
<path d="M2112.84,208.2V280.4M2111.84,240.2H2113.84V274.6H2111.84Z" stroke="#ef5350" fill="#ef5350"/>
<path d="M2116.11,257.1V293.2M2115.11,274.6H2117.11V282.4H2115.11Z" stroke="#ef5350" fill="#ef5350"/>
<path d="M2119.39,279.2V287.3M2118.39,279.7H2120.39V282.4H2118.39Z" stroke="#26a69a" fill="#26a69a"/>
<path d="M2122.66,270.3V285.0M2121.66,279.7H2123.66V284.1H2121.66Z" stroke="#ef5350" fill="#ef5350"/>
<path d="M2125.94,283.9V318.8M2124.94,285.9H2126.94V312.3H2124.94Z" stroke="#ef5350" fill="#ef5350"/>
<path d="M2129.21,289.7V339.8M2128.21,312.3H2130.21V327.4H2128.21Z" stroke="#ef5350" fill="#ef5350"/>
<path d="M2132.49,316.5V345.6M2131.49,322.2H2133.49V327.4H2131.49Z" stroke="#26a69a" fill="#26a69a"/>
<path d="M2135.76,313.7V344.4M2134.76,322.2H2136.76V327.7H2134.76Z" stroke="#ef5350" fill="#ef5350"/>
<path d="M2139.04,290.4V349.1M2138.04,316.2H2140.04V327.7H2138.04Z" stroke="#26a69a" fill="#26a69a"/>
<path d="M2142.31,302.0V329.3M2141.31,316.2H2143.31V327.6H2141.31Z" stroke="#ef5350" fill="#ef5350"/>
<path d="M2145.59,320.0V378.2M2144.59,327.6H2146.59V360.7H2144.59Z" stroke="#ef5350" fill="#ef5350"/>
<path d="M2148.86,333.9V380.5M2147.86,360.7H2149.86V369.1H2147.86Z" stroke="#ef5350" fill="#ef5350"/>
<path d="M2152.14,343.2V391.0M2151.14,346.1H2153.14V369.1H2151.14Z" stroke="#26a69a" fill="#26a69a"/>
<path d="M2155.41,328.1V361.9M2154.41,346.1H2156.41V352.2H2154.41Z" stroke="#ef5350" fill="#ef5350"/>
<path d="M2158.69,331.6V361.9M2157.69,346.7H2159.69V352.2H2157.69Z" stroke="#26a69a" fill="#26a69a"/>
<path d="M2161.96,344.9V412.0M2160.96,348.9H2162.96V401.6H2160.96Z" stroke="#ef5350" fill="#ef5350"/>
<path d="M2165.24,392.2V413.1M2164.24,397.9H2166.24V401.6H2164.24Z" stroke="#26a69a" fill="#26a69a"/>
<path d="M2168.51,385.9V420.1M2167.51,397.9H2169.51V404.0H2167.51Z" stroke="#ef5350" fill="#ef5350"/>
<path d="M2171.79,385.9V417.8M2170.79,387.8H2172.79V404.0H2170.79Z" stroke="#26a69a" fill="#26a69a"/>
<path d="M2175.06,355.6V395.7M2174.06,358.0H2176.06V387.8H2174.06Z" stroke="#26a69a" fill="#26a69a"/>
<path d="M2178.34,344.4V367.7M2177.34,353.8H2179.34V358.0H2177.34Z" stroke="#26a69a" fill="#26a69a"/>
<path d="M2181.61,349.1V381.7M2180.61,353.8H2182.61V362.1H2180.61Z" stroke="#ef5350" fill="#ef5350"/>
<path d="M2184.89,339.3V381.7M2183.89,362.1H2185.89V375.3H2183.89Z" stroke="#ef5350" fill="#ef5350"/>
<path d="M2188.16,365.4V381.7M2187.16,375.3H2189.16V378.2H2187.16Z" stroke="#ef5350" fill="#ef5350"/>
<path d="M2191.44,363.0V381.7M2190.44,364.2H2192.44V378.2H2190.44Z" stroke="#26a69a" fill="#26a69a"/>
<path d="M2194.71,350.2V374.7M2193.71,359.3H2195.71V364.2H2193.71Z" stroke="#26a69a" fill="#26a69a"/>
<path d="M2197.99,347.9V374.7M2196.99,349.5H2198.99V359.3H2196.99Z" stroke="#26a69a" fill="#26a69a"/>
<path d="M2201.26,313.0V368.9M2200.26,326.0H2202.26V349.5H2200.26Z" stroke="#26a69a" fill="#26a69a"/>
<path d="M2204.54,313.0V339.8M2203.54,314.8H2205.54V326.0H2203.54Z" stroke="#26a69a" fill="#26a69a"/>
<path d="M2207.81,299.5V323.5M2206.81,310.5H2208.81V314.8H2206.81Z" stroke="#26a69a" fill="#26a69a"/>
<path d="M2211.09,306.1V323.5M2210.09,310.5H2212.09V317.6H2210.09Z" stroke="#ef5350" fill="#ef5350"/>
<path d="M2214.36,308.4V323.5M2213.36,317.6H2215.36V320.4H2213.36Z" stroke="#ef5350" fill="#ef5350"/>
<path d="M2217.64,298.6V331.7M2216.64,320.4H2218.64V326.3H2216.64Z" stroke="#ef5350" fill="#ef5350"/>
<path d="M2220.91,313.0V336.3M2219.91,322.1H2221.91V326.3H2219.91Z" stroke="#26a69a" fill="#26a69a"/>
<path d="M2224.19,306.1V339.8M2223.19,308.1H2225.19V322.1H2223.19Z" stroke="#26a69a" fill="#26a69a"/>
<path d="M2227.46,290.5V316.5M2226.46,303.4H2228.46V308.1H2226.46Z" stroke="#26a69a" fill="#26a69a"/>
<path d="M2230.74,295.6V321.2M2229.74,303.4H2231.74V312.1H2229.74Z" stroke="#ef5350" fill="#ef5350"/>
<path d="M2234.01,307.2V316.5M2233.01,310.4H2235.01V312.1H2233.01Z" stroke="#26a69a" fill="#26a69a"/>
<path d="M2237.29,310.7V320.0M2236.29,311.3H2238.29V319.5H2236.29Z" stroke="#ef5350" fill="#ef5350"/>
<path d="M2240.56,311.9V364.3M2239.56,319.5H2241.56V353.8H2239.56Z" stroke="#ef5350" fill="#ef5350"/>
<path d="M2243.84,316.5V375.9M2242.84,353.8H2244.84V364.5H2242.84Z" stroke="#ef5350" fill="#ef5350"/>
<path d="M2247.11,334.5V379.4M2246.11,356.4H2248.11V364.5H2246.11Z" stroke="#26a69a" fill="#26a69a"/>
<path d="M2250.39,341.5V393.4M2249.39,356.4H2251.39V388.6H2249.39Z" stroke="#ef5350" fill="#ef5350"/>
<path d="M2253.66,375.9V395.7M2252.66,385.1H2254.66V388.6H2252.66Z" stroke="#26a69a" fill="#26a69a"/>
<path d="M2256.94,381.8V392.2M2255.94,382.4H2257.94V385.1H2255.94Z" stroke="#26a69a" fill="#26a69a"/>
<path d="M2260.21,351.5V389.9M2259.21,353.8H2261.21V382.4H2259.21Z" stroke="#26a69a" fill="#26a69a"/>
<path d="M2263.49,327.5V365.5M2262.49,337.5H2264.49V353.8H2262.49Z" stroke="#26a69a" fill="#26a69a"/>
<path d="M2266.76,321.9V352.6M2265.76,337.5H2267.76V343.0H2265.76Z" stroke="#ef5350" fill="#ef5350"/>
<path d="M2270.04,274.6V335.2M2269.04,278.2H2271.04V331.5H2269.04Z" stroke="#26a69a" fill="#26a69a"/>
<path d="M2273.31,244.3V280.4M2272.31,246.5H2274.31V278.2H2272.31Z" stroke="#26a69a" fill="#26a69a"/>
<path d="M2276.59,211.7V267.6M2275.59,235.3H2277.59V246.5H2275.59Z" stroke="#26a69a" fill="#26a69a"/>
<path d="M2279.86,224.5V244.3M2278.86,235.3H2280.86V238.9H2278.86Z" stroke="#ef5350" fill="#ef5350"/>
<path d="M2283.14,197.7V238.5M2282.14,204.1H2284.14V236.1H2282.14Z" stroke="#26a69a" fill="#26a69a"/>
<path d="M2286.41,180.3V229.2M2285.41,195.3H2287.41V204.1H2285.41Z" stroke="#26a69a" fill="#26a69a"/>
<path d="M2289.69,183.8V240.4M2288.69,195.3H2290.69V205.5H2288.69Z" stroke="#ef5350" fill="#ef5350"/>
<path d="M2292.96,187.3V231.5M2291.96,197.5H2293.96V205.5H2291.96Z" stroke="#26a69a" fill="#26a69a"/>
<path d="M2296.24,193.1V237.3M2295.24,197.5H2297.24V234.7H2295.24Z" stroke="#ef5350" fill="#ef5350"/>
<path d="M2299.51,202.4V441.2M2298.51,234.7H2300.51V332.0H2298.51Z" stroke="#ef5350" fill="#ef5350"/>
<path d="M2302.79,289.8V357.3M2301.79,332.0H2303.79V344.2H2301.79Z" stroke="#ef5350" fill="#ef5350"/>
<path d="M2306.06,284.6V355.0M2305.06,300.3H2307.06V344.2H2305.06Z" stroke="#26a69a" fill="#26a69a"/>
<path d="M2309.34,287.4V316.5M2308.34,295.0H2310.34V300.3H2308.34Z" stroke="#26a69a" fill="#26a69a"/>
<path d="M2312.61,292.5V364.3M2311.61,296.9H2313.61V342.7H2311.61Z" stroke="#ef5350" fill="#ef5350"/>
<path d="M2315.89,322.4V370.1M2314.89,342.7H2316.89V367.2H2314.89Z" stroke="#ef5350" fill="#ef5350"/>
<path d="M2319.16,350.3V410.9M2318.16,367.2H2320.16V407.2H2318.16Z" stroke="#ef5350" fill="#ef5350"/>
<path d="M2322.44,380.6V462.8M2321.44,407.2H2323.44V422.0H2321.44Z" stroke="#ef5350" fill="#ef5350"/>
<path d="M2325.71,406.2V421.4M2324.71,407.1H2326.71V420.4H2324.71Z" stroke="#26a69a" fill="#26a69a"/>
<path d="M2328.99,380.6V424.8M2327.99,383.2H2329.99V407.1H2327.99Z" stroke="#26a69a" fill="#26a69a"/>
<path d="M2332.26,354.5V407.4M2331.26,363.5H2333.26V383.2H2331.26Z" stroke="#26a69a" fill="#26a69a"/>
<path d="M2335.54,318.9V403.9M2334.54,363.5H2336.54V388.7H2334.54Z" stroke="#ef5350" fill="#ef5350"/>
<path d="M2338.81,367.8V412.7M2337.81,388.7H2339.81V396.8H2337.81Z" stroke="#ef5350" fill="#ef5350"/>
<path d="M2342.09,354.5V402.7M2341.09,362.6H2343.09V396.8H2341.09Z" stroke="#26a69a" fill="#26a69a"/>
<path d="M2345.36,347.5V375.9M2344.36,353.7H2346.36V362.6H2344.36Z" stroke="#26a69a" fill="#26a69a"/>
<path d="M2348.64,348.0V364.3M2347.64,349.0H2349.64V353.7H2347.64Z" stroke="#26a69a" fill="#26a69a"/>
<path d="M2351.91,304.9V356.1M2350.91,308.0H2352.91V349.0H2350.91Z" stroke="#26a69a" fill="#26a69a"/>
<path d="M2355.19,290.9V325.9M2354.19,308.0H2356.19V323.8H2354.19Z" stroke="#ef5350" fill="#ef5350"/>
<path d="M2358.46,299.1V345.7M2357.46,323.8H2359.46V342.9H2357.46Z" stroke="#ef5350" fill="#ef5350"/>
<path d="M2361.74,327.0V377.1M2360.74,342.9H2362.74V374.1H2360.74Z" stroke="#ef5350" fill="#ef5350"/>
<path d="M2365.01,352.6V412.7M2364.01,374.1H2366.01V384.9H2364.01Z" stroke="#ef5350" fill="#ef5350"/>
<path d="M2368.29,347.5V388.7M2367.29,362.5H2369.29V384.9H2367.29Z" stroke="#26a69a" fill="#26a69a"/>
<path d="M2371.56,356.1V371.3M2370.56,357.0H2372.56V362.5H2370.56Z" stroke="#26a69a" fill="#26a69a"/>
<path d="M2374.84,348.0V368.9M2373.84,353.3H2375.84V357.0H2373.84Z" stroke="#26a69a" fill="#26a69a"/>
<path d="M2378.11,352.6V420.2M2377.11,356.7H2379.11V416.1H2377.11Z" stroke="#ef5350" fill="#ef5350"/>
<path d="M2381.39,394.6V499.6M2380.39,416.1H2382.39V458.8H2380.39Z" stroke="#ef5350" fill="#ef5350"/>
<path d="M2384.66,426.1V500.2M2383.66,445.5H2385.66V458.8H2383.66Z" stroke="#26a69a" fill="#26a69a"/>
<path d="M2387.94,432.6V488.5M2386.94,445.5H2388.94V473.0H2386.94Z" stroke="#ef5350" fill="#ef5350"/>
<path d="M2391.21,442.4V503.6M2390.21,462.0H2392.21V473.0H2390.21Z" stroke="#26a69a" fill="#26a69a"/>
<path d="M2394.49,450.1V476.9M2393.49,462.0H2395.49V466.8H2393.49Z" stroke="#ef5350" fill="#ef5350"/>
<path d="M2397.76,423.3V476.9M2396.76,434.5H2398.76V466.8H2396.76Z" stroke="#26a69a" fill="#26a69a"/>
<path d="M2401.04,408.2V469.9M2400.04,423.4H2402.04V434.5H2400.04Z" stroke="#26a69a" fill="#26a69a"/>
<path d="M2404.31,397.4V465.2M2403.31,423.4H2405.31V461.2H2403.31Z" stroke="#ef5350" fill="#ef5350"/>
<path d="M2407.59,426.8V486.2M2406.59,461.2H2408.59V480.0H2406.59Z" stroke="#ef5350" fill="#ef5350"/>
<path d="M2410.86,445.4V528.1M2409.86,480.0H2411.86V523.1H2409.86Z" stroke="#ef5350" fill="#ef5350"/>
<path d="M2414.14,504.8V579.3M2413.14,523.1H2415.14V556.9H2413.14Z" stroke="#ef5350" fill="#ef5350"/>
<path d="M2417.41,543.2V573.5M2416.41,551.5H2418.41V556.9H2416.41Z" stroke="#26a69a" fill="#26a69a"/>
<path d="M2420.69,545.6V593.3M2419.69,551.5H2421.69V585.1H2419.69Z" stroke="#ef5350" fill="#ef5350"/>
<path d="M2423.96,550.2V613.1M2422.96,585.1H2424.96V601.6H2422.96Z" stroke="#ef5350" fill="#ef5350"/>
<path d="M2427.24,575.9V638.7M2426.24,590.3H2428.24V601.6H2426.24Z" stroke="#26a69a" fill="#26a69a"/>
<path d="M2430.51,587.5V638.7M2429.51,590.6H2431.51V632.6H2429.51Z" stroke="#ef5350" fill="#ef5350"/>
<path d="M2433.79,579.3V672.5M2432.79,632.6H2434.79V666.9H2432.79Z" stroke="#ef5350" fill="#ef5350"/>
<path d="M2437.06,655.0V740.8M2436.06,666.9H2438.06V687.5H2436.06Z" stroke="#ef5350" fill="#ef5350"/>
<path d="M2440.34,677.2V702.3M2439.34,687.5H2441.34V692.1H2439.34Z" stroke="#ef5350" fill="#ef5350"/>
<path d="M2443.61,642.2V688.8M2442.61,653.2H2444.61V686.0H2442.61Z" stroke="#26a69a" fill="#26a69a"/>
<path d="M2446.89,629.4V683.0M2445.89,643.5H2447.89V653.2H2445.89Z" stroke="#26a69a" fill="#26a69a"/>
<path d="M2450.16,638.7V674.8M2449.16,643.5H2451.16V650.0H2449.16Z" stroke="#ef5350" fill="#ef5350"/>
<path d="M2453.44,618.9V672.5M2452.44,622.2H2454.44V650.0H2452.44Z" stroke="#26a69a" fill="#26a69a"/>
<path d="M2456.71,599.8V625.9M2455.71,606.9H2457.71V622.2H2455.71Z" stroke="#26a69a" fill="#26a69a"/>
<path d="M2459.99,584.0V623.6M2458.99,606.9H2460.99V616.4H2458.99Z" stroke="#ef5350" fill="#ef5350"/>
<path d="M2463.26,610.8V623.6M2462.26,616.4H2464.26V618.7H2462.26Z" stroke="#ef5350" fill="#ef5350"/>
<path d="M2466.54,600.8V624.8M2465.54,618.7H2467.54V623.3H2465.54Z" stroke="#ef5350" fill="#ef5350"/>
<path d="M2469.81,618.9V709.3M2468.81,624.4H2470.81V640.6H2468.81Z" stroke="#ef5350" fill="#ef5350"/>
<path d="M2473.09,599.8V678.3M2472.09,604.6H2474.09V640.6H2472.09Z" stroke="#26a69a" fill="#26a69a"/>
<path d="M2476.36,581.2V617.8M2475.36,598.0H2477.36V604.6H2475.36Z" stroke="#26a69a" fill="#26a69a"/>
<path d="M2479.64,581.7V621.3M2478.64,598.0H2480.64V618.9H2478.64Z" stroke="#ef5350" fill="#ef5350"/>
<path d="M2482.91,598.0V655.7M2481.91,618.9H2483.91V636.9H2481.91Z" stroke="#ef5350" fill="#ef5350"/>
<path d="M2486.19,623.6V644.6M2485.19,636.9H2487.19V640.7H2485.19Z" stroke="#ef5350" fill="#ef5350"/>
<path d="M2489.46,608.5V660.4M2488.46,618.5H2490.46V640.7H2488.46Z" stroke="#26a69a" fill="#26a69a"/>
<path d="M2492.74,603.8V635.3M2491.74,605.7H2493.74V618.5H2491.74Z" stroke="#26a69a" fill="#26a69a"/>
<path d="M2496.01,572.4V638.0M2495.01,593.9H2497.01V605.7H2495.01Z" stroke="#26a69a" fill="#26a69a"/>
<path d="M2499.29,579.3V614.3M2498.29,593.9H2500.29V612.2H2498.29Z" stroke="#ef5350" fill="#ef5350"/>
<path d="M2502.56,596.1V651.1M2501.56,602.3H2503.56V612.2H2501.56Z" stroke="#26a69a" fill="#26a69a"/>
<path d="M2505.84,606.1V646.4M2504.84,608.6H2506.84V637.2H2504.84Z" stroke="#ef5350" fill="#ef5350"/>
<path d="M2509.11,632.9V644.6M2508.11,637.2H2510.11V643.9H2508.11Z" stroke="#ef5350" fill="#ef5350"/>
<path d="M2512.39,635.3V671.4M2511.39,643.9H2513.39V669.2H2511.39Z" stroke="#ef5350" fill="#ef5350"/>
<path d="M2515.66,641.1V703.0M2514.66,669.2H2516.66V689.1H2514.66Z" stroke="#ef5350" fill="#ef5350"/>
<path d="M2518.94,667.9V702.3M2517.94,675.3H2519.94V689.1H2517.94Z" stroke="#26a69a" fill="#26a69a"/>
<path d="M2522.21,638.0V703.5M2521.21,675.3H2523.21V689.3H2521.21Z" stroke="#ef5350" fill="#ef5350"/>
<path d="M2525.49,649.2V710.9M2524.49,689.3H2526.49V700.4H2524.49Z" stroke="#ef5350" fill="#ef5350"/>
<path d="M2528.76,648.1V701.2M2527.76,661.3H2529.76V698.0H2527.76Z" stroke="#26a69a" fill="#26a69a"/>
<path d="M2532.04,655.0V669.0M2531.04,657.9H2533.04V661.3H2531.04Z" stroke="#26a69a" fill="#26a69a"/>
<path d="M2535.31,650.4V669.0M2534.31,654.6H2536.31V657.9H2534.31Z" stroke="#26a69a" fill="#26a69a"/>
<path d="M2538.59,634.1V670.2M2537.59,654.6H2539.59V668.0H2537.59Z" stroke="#ef5350" fill="#ef5350"/>
<path d="M2541.86,657.4V687.7M2540.86,668.0H2542.86V678.5H2540.86Z" stroke="#ef5350" fill="#ef5350"/>
<path d="M2545.14,671.4V691.2M2544.14,674.9H2546.14V678.5H2544.14Z" stroke="#26a69a" fill="#26a69a"/>
<path d="M2548.41,665.1V683.0M2547.41,674.9H2549.41V678.1H2547.41Z" stroke="#ef5350" fill="#ef5350"/>
<path d="M2551.69,652.3V687.7M2550.69,671.8H2552.69V678.1H2550.69Z" stroke="#26a69a" fill="#26a69a"/>
<path d="M2554.96,670.7V680.7M2553.96,671.3H2555.96V673.1H2553.96Z" stroke="#26a69a" fill="#26a69a"/>
<path d="M2558.24,670.2V679.5M2557.24,670.7H2559.24V672.4H2557.24Z" stroke="#26a69a" fill="#26a69a"/>
<path d="M2561.51,641.1V685.3M2560.51,670.7H2562.51V678.7H2560.51Z" stroke="#ef5350" fill="#ef5350"/>
<path d="M2564.79,652.7V685.3M2563.79,665.0H2565.79V678.7H2563.79Z" stroke="#26a69a" fill="#26a69a"/>
<path d="M2568.06,653.9V679.5M2567.06,665.0H2569.06V669.6H2567.06Z" stroke="#ef5350" fill="#ef5350"/>
<path d="M2571.34,657.4V671.4M2570.34,658.2H2572.34V669.6H2570.34Z" stroke="#26a69a" fill="#26a69a"/>
<path d="M2574.61,629.4V665.5M2573.61,636.6H2575.61V658.2H2573.61Z" stroke="#26a69a" fill="#26a69a"/>
<path d="M2577.89,629.4V648.1M2576.89,630.5H2578.89V636.6H2576.89Z" stroke="#26a69a" fill="#26a69a"/>
<path d="M2581.16,616.6V632.9M2580.16,617.6H2582.16V630.5H2580.16Z" stroke="#26a69a" fill="#26a69a"/>
<path d="M2584.44,578.2V621.3M2583.44,599.8H2585.44V617.6H2583.44Z" stroke="#26a69a" fill="#26a69a"/>
<path d="M2587.71,581.7V621.3M2586.71,592.6H2588.71V599.8H2586.71Z" stroke="#26a69a" fill="#26a69a"/>
<path d="M2590.99,586.3V628.3M2589.99,592.6H2591.99V625.7H2589.99Z" stroke="#ef5350" fill="#ef5350"/>
<path d="M2594.26,610.8V643.4M2593.26,625.7H2595.26V631.6H2593.26Z" stroke="#ef5350" fill="#ef5350"/>
<path d="M2597.54,605.4V637.6M2596.54,629.9H2598.54V635.7H2596.54Z" stroke="#ef5350" fill="#ef5350"/>
<path d="M2600.81,617.8V627.1M2599.81,624.9H2601.81V626.5H2599.81Z" stroke="#ef5350" fill="#ef5350"/>
<path d="M2604.09,616.6V628.3M2603.09,617.7H2605.09V626.5H2603.09Z" stroke="#26a69a" fill="#26a69a"/>
<path d="M2607.36,602.6V635.3M2606.36,617.7H2608.36V623.6H2606.36Z" stroke="#ef5350" fill="#ef5350"/>
<path d="M2610.64,549.1V621.3M2609.64,553.4H2611.64V616.9H2609.64Z" stroke="#26a69a" fill="#26a69a"/>
<path d="M2613.91,530.0V575.9M2612.91,545.1H2614.91V553.4H2612.91Z" stroke="#26a69a" fill="#26a69a"/>
<path d="M2617.19,536.3V565.4M2616.19,545.1H2618.19V563.6H2616.19Z" stroke="#ef5350" fill="#ef5350"/>
<path d="M2620.46,553.7V571.9M2619.46,557.4H2621.46V563.6H2619.46Z" stroke="#26a69a" fill="#26a69a"/>
<path d="M2623.74,554.2V563.0M2622.74,557.4H2624.74V562.5H2622.74Z" stroke="#ef5350" fill="#ef5350"/>
<path d="M2627.01,555.6V587.5M2626.01,562.5H2628.01V585.6H2626.01Z" stroke="#ef5350" fill="#ef5350"/>
<path d="M2630.29,581.7V607.3M2629.29,585.6H2631.29V605.8H2629.29Z" stroke="#ef5350" fill="#ef5350"/>
<path d="M2633.56,596.8V667.9M2632.56,605.8H2634.56V646.7H2632.56Z" stroke="#ef5350" fill="#ef5350"/>
<path d="M2636.84,631.1V674.4M2635.84,639.0H2637.84V646.7H2635.84Z" stroke="#26a69a" fill="#26a69a"/>
<path d="M2640.11,632.9V658.5M2639.11,639.0H2641.11V643.6H2639.11Z" stroke="#ef5350" fill="#ef5350"/>
<path d="M2643.39,632.5V662.0M2642.39,643.6H2644.39V659.3H2642.39Z" stroke="#ef5350" fill="#ef5350"/>
<path d="M2646.66,652.7V663.2M2645.66,659.3H2647.66V662.6H2645.66Z" stroke="#ef5350" fill="#ef5350"/>
<path d="M2649.94,659.7V705.4M2648.94,662.6H2650.94V686.0H2648.94Z" stroke="#ef5350" fill="#ef5350"/>
<path d="M2653.21,670.2V697.7M2652.21,681.0H2654.21V686.0H2652.21Z" stroke="#26a69a" fill="#26a69a"/>
<path d="M2656.49,669.0V698.8M2655.49,681.0H2657.49V686.4H2655.49Z" stroke="#ef5350" fill="#ef5350"/>
<path d="M2659.76,655.0V681.4M2658.76,675.1H2660.76V679.8H2658.76Z" stroke="#26a69a" fill="#26a69a"/>
<path d="M2663.04,673.1V745.5M2662.04,677.4H2664.04V741.2H2662.04Z" stroke="#ef5350" fill="#ef5350"/>
<path d="M2666.31,724.5V772.3M2665.31,732.6H2667.31V741.2H2665.31Z" stroke="#26a69a" fill="#26a69a"/>
<path d="M2669.59,725.0V831.7M2668.59,732.6H2670.59V805.6H2668.59Z" stroke="#ef5350" fill="#ef5350"/>
<path d="M2672.86,785.1V832.8M2671.86,805.6H2673.86V820.8H2671.86Z" stroke="#ef5350" fill="#ef5350"/>
<path d="M2676.14,783.9V849.1M2675.14,809.0H2677.14V820.8H2675.14Z" stroke="#26a69a" fill="#26a69a"/>
<path d="M2679.41,787.0V865.2M2678.41,809.0H2680.41V843.6H2678.41Z" stroke="#ef5350" fill="#ef5350"/>
<path d="M2682.69,816.5V879.2M2681.69,843.6H2683.69V875.4H2681.69Z" stroke="#ef5350" fill="#ef5350"/>
<path d="M2685.96,862.0V999.1M2684.96,875.4H2686.96V964.8H2684.96Z" stroke="#ef5350" fill="#ef5350"/>
<path d="M2689.24,879.9V1027.1M2688.24,915.0H2690.24V964.8H2688.24Z" stroke="#26a69a" fill="#26a69a"/>
<path d="M2692.51,881.5V935.1M2691.51,915.0H2693.51V924.6H2691.51Z" stroke="#ef5350" fill="#ef5350"/>
<path d="M2695.79,873.4V914.1M2694.79,904.3H2696.79V911.7H2694.79Z" stroke="#26a69a" fill="#26a69a"/>
<path d="M2699.06,885.0V930.4M2698.06,904.3H2700.06V916.5H2698.06Z" stroke="#ef5350" fill="#ef5350"/>
<path d="M2702.34,904.8V937.4M2701.34,916.5H2703.34V935.5H2701.34Z" stroke="#ef5350" fill="#ef5350"/>
<path d="M2705.61,918.8V959.6M2704.61,935.5H2706.61V947.0H2704.61Z" stroke="#ef5350" fill="#ef5350"/>
<path d="M2708.89,926.9V967.7M2707.89,947.0H2709.89V954.4H2707.89Z" stroke="#ef5350" fill="#ef5350"/>
<path d="M2712.16,914.1V958.4M2711.16,916.8H2713.16V954.4H2711.16Z" stroke="#26a69a" fill="#26a69a"/>
<path d="M2715.44,899.0V924.6M2714.44,910.3H2716.44V916.8H2714.44Z" stroke="#26a69a" fill="#26a69a"/>
<path d="M2718.71,892.7V930.4M2717.71,910.3H2719.71V919.7H2717.71Z" stroke="#ef5350" fill="#ef5350"/>
<path d="M2721.99,904.8V939.8M2720.99,913.4H2722.99V919.7H2720.99Z" stroke="#26a69a" fill="#26a69a"/>
<path d="M2725.26,915.8V945.6M2724.26,917.6H2726.26V937.9H2724.26Z" stroke="#ef5350" fill="#ef5350"/>
<path d="M2728.54,923.4V952.6M2727.54,937.9H2729.54V947.2H2727.54Z" stroke="#ef5350" fill="#ef5350"/>
<path d="M2731.81,936.3V953.7M2730.81,937.3H2732.81V947.2H2730.81Z" stroke="#26a69a" fill="#26a69a"/>
<path d="M2735.09,921.1V944.4M2734.09,925.9H2736.09V937.3H2734.09Z" stroke="#26a69a" fill="#26a69a"/>
<path d="M2738.36,917.6V931.6M2737.36,925.9H2739.36V928.4H2737.36Z" stroke="#ef5350" fill="#ef5350"/>
</g>
</svg>
<svg width="2800" height="1400" viewBox="0 0 2800 1400" style="position:absolute;left:0;top:0;will-change:transform;">
<g>
<text class="title" x="140" y="60.2">Order Blocks</text>
<text x="177.3" y="1350.6" text-anchor="middle">Jan 2024</text>
<text x="475.3" y="1350.6" text-anchor="middle">Apr 2024</text>
<text x="773.4" y="1350.6" text-anchor="middle">Jul 2024</text>
<text x="1074.7" y="1350.6" text-anchor="middle">Oct 2024</text>
<text x="1376.0" y="1350.6" text-anchor="middle">Jan 2025</text>
<text x="1670.7" y="1350.6" text-anchor="middle">Apr 2025</text>
<text x="1968.7" y="1350.6" text-anchor="middle">Jul 2025</text>
<text x="2270.0" y="1350.6" text-anchor="middle">Oct 2025</text>
<text x="2571.3" y="1350.6" text-anchor="middle">Jan 2026</text>
<text x="113.3" y="149.7" text-anchor="end">110k</text>
<text x="113.3" y="299.7" text-anchor="end">100k</text>
<text x="113.3" y="449.7" text-anchor="end">90k</text>
<text x="113.3" y="599.7" text-anchor="end">80k</text>
<text x="113.3" y="749.7" text-anchor="end">70k</text>
<text x="113.3" y="899.7" text-anchor="end">60k</text>
<text x="113.3" y="1049.7" text-anchor="end">50k</text>
<text x="113.3" y="1199.7" text-anchor="end">40k</text>
</g>
</svg>
</body></html>
